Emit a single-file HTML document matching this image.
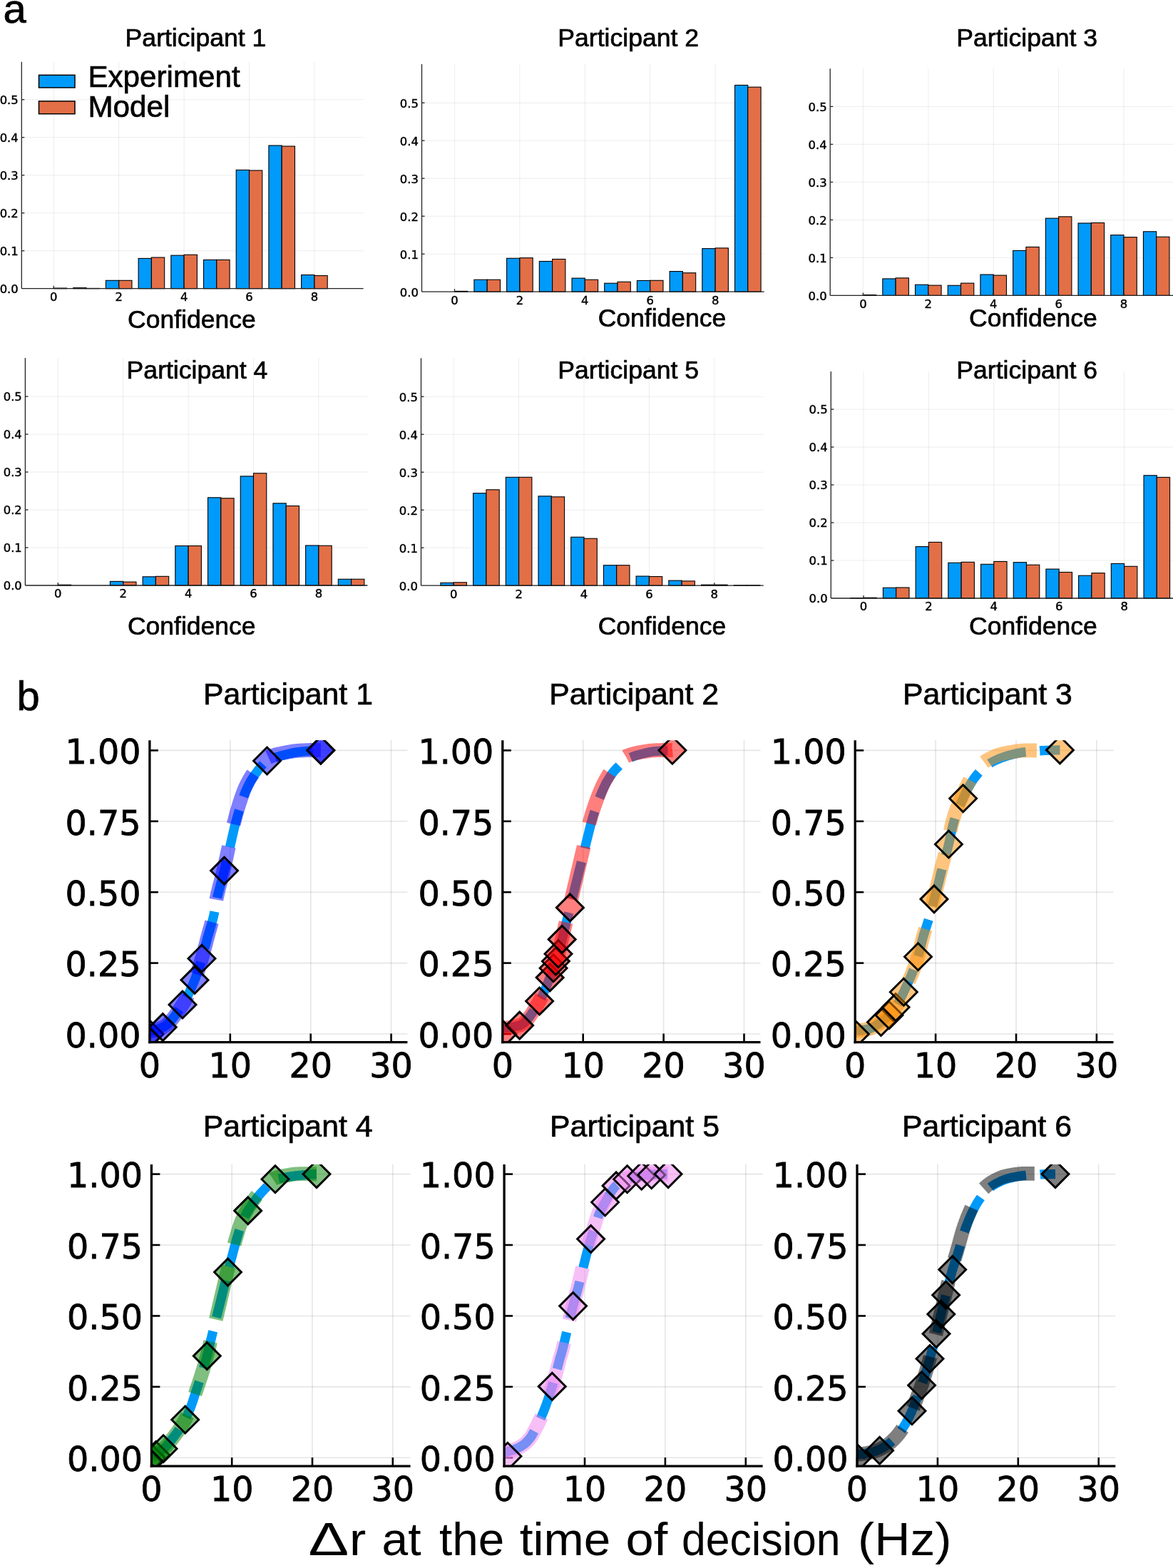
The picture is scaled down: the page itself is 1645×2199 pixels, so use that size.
<!DOCTYPE html>
<html lang="en"><head><meta charset="utf-8"><title>Figure</title>
<style>html,body{margin:0;padding:0;background:#fff}svg{display:block}</style></head><body>
<svg width="1645" height="2199" viewBox="0 0 1645 2199">
<rect width="1645" height="2199" fill="#fff"/>
<g stroke="#000" stroke-opacity="0.085" stroke-width="0.9"><line x1="75.3" y1="86.8" x2="75.3" y2="404.7"/><line x1="166.7" y1="86.8" x2="166.7" y2="404.7"/><line x1="258.1" y1="86.8" x2="258.1" y2="404.7"/><line x1="349.5" y1="86.8" x2="349.5" y2="404.7"/><line x1="440.9" y1="86.8" x2="440.9" y2="404.7"/><line x1="30.3" y1="404.7" x2="509.6" y2="404.7"/><line x1="30.3" y1="351.7" x2="509.6" y2="351.7"/><line x1="30.3" y1="298.7" x2="509.6" y2="298.7"/><line x1="30.3" y1="245.7" x2="509.6" y2="245.7"/><line x1="30.3" y1="192.7" x2="509.6" y2="192.7"/><line x1="30.3" y1="139.7" x2="509.6" y2="139.7"/></g>
<g stroke="#000" stroke-width="1.1"><rect x="75.3" y="404.06" width="18.28" height="0.64" fill="#E36F47"/><rect x="102.72" y="403.64" width="18.28" height="1.06" fill="#009AFA"/><rect x="121" y="404.38" width="18.28" height="0.32" fill="#E36F47"/><rect x="148.42" y="393.31" width="18.28" height="11.39" fill="#009AFA"/><rect x="166.7" y="393.31" width="18.28" height="11.39" fill="#E36F47"/><rect x="194.12" y="362.41" width="18.28" height="42.29" fill="#009AFA"/><rect x="212.4" y="361.03" width="18.28" height="43.67" fill="#E36F47"/><rect x="239.82" y="358.17" width="18.28" height="46.53" fill="#009AFA"/><rect x="258.1" y="357.26" width="18.28" height="47.43" fill="#E36F47"/><rect x="285.52" y="364.42" width="18.28" height="40.28" fill="#009AFA"/><rect x="303.8" y="364.42" width="18.28" height="40.28" fill="#E36F47"/><rect x="331.22" y="238.39" width="18.28" height="166.31" fill="#009AFA"/><rect x="349.5" y="239.02" width="18.28" height="165.68" fill="#E36F47"/><rect x="376.92" y="204.04" width="18.28" height="200.66" fill="#009AFA"/><rect x="395.2" y="205.05" width="18.28" height="199.65" fill="#E36F47"/><rect x="422.62" y="385.51" width="18.28" height="19.19" fill="#009AFA"/><rect x="440.9" y="386.52" width="18.28" height="18.18" fill="#E36F47"/></g>
<g stroke="#222" stroke-width="1.3"><line x1="30.3" y1="86.8" x2="30.3" y2="404.7"/><line x1="30.3" y1="404.7" x2="509.6" y2="404.7"/><line x1="75.3" y1="404.7" x2="75.3" y2="400.7"/><line x1="166.7" y1="404.7" x2="166.7" y2="400.7"/><line x1="258.1" y1="404.7" x2="258.1" y2="400.7"/><line x1="349.5" y1="404.7" x2="349.5" y2="400.7"/><line x1="440.9" y1="404.7" x2="440.9" y2="400.7"/><line x1="30.3" y1="351.7" x2="34.3" y2="351.7"/><line x1="30.3" y1="298.7" x2="34.3" y2="298.7"/><line x1="30.3" y1="245.7" x2="34.3" y2="245.7"/><line x1="30.3" y1="192.7" x2="34.3" y2="192.7"/><line x1="30.3" y1="139.7" x2="34.3" y2="139.7"/></g>
<g font-family="'DejaVu Sans', Verdana, sans-serif" font-size="16.4" fill="#000" stroke="#000" stroke-width="0.45"><text x="75.3" y="422.1" text-anchor="middle">0</text><text x="166.7" y="422.1" text-anchor="middle">2</text><text x="258.1" y="422.1" text-anchor="middle">4</text><text x="349.5" y="422.1" text-anchor="middle">6</text><text x="440.9" y="422.1" text-anchor="middle">8</text><text x="25.7" y="411.1" text-anchor="end">0.0</text><text x="25.7" y="358.1" text-anchor="end">0.1</text><text x="25.7" y="305.1" text-anchor="end">0.2</text><text x="25.7" y="252.1" text-anchor="end">0.3</text><text x="25.7" y="199.1" text-anchor="end">0.4</text><text x="25.7" y="146.1" text-anchor="end">0.5</text></g>
<text x="274.5" y="64.5" text-anchor="middle" font-family="'Liberation Sans', Arial, Helvetica, sans-serif" font-size="35.6" fill="#000" stroke="#000" stroke-width="0.7">Participant 1</text>
<text x="268.9" y="459.6" text-anchor="middle" font-family="'Liberation Sans', Arial, Helvetica, sans-serif" font-size="35.5" fill="#000" stroke="#000" stroke-width="0.7">Confidence</text>
<g stroke="#000" stroke-opacity="0.085" stroke-width="0.9"><line x1="637.5" y1="90" x2="637.5" y2="409.2"/><line x1="728.9" y1="90" x2="728.9" y2="409.2"/><line x1="820.3" y1="90" x2="820.3" y2="409.2"/><line x1="911.7" y1="90" x2="911.7" y2="409.2"/><line x1="1003.1" y1="90" x2="1003.1" y2="409.2"/><line x1="591.5" y1="409.2" x2="1071.7" y2="409.2"/><line x1="591.5" y1="356.2" x2="1071.7" y2="356.2"/><line x1="591.5" y1="303.2" x2="1071.7" y2="303.2"/><line x1="591.5" y1="250.2" x2="1071.7" y2="250.2"/><line x1="591.5" y1="197.2" x2="1071.7" y2="197.2"/><line x1="591.5" y1="144.2" x2="1071.7" y2="144.2"/></g>
<g stroke="#000" stroke-width="1.1"><rect x="637.5" y="408.4" width="18.28" height="0.8" fill="#E36F47"/><rect x="664.92" y="392.24" width="18.28" height="16.96" fill="#009AFA"/><rect x="683.2" y="392.24" width="18.28" height="16.96" fill="#E36F47"/><rect x="710.62" y="362.24" width="18.28" height="46.96" fill="#009AFA"/><rect x="728.9" y="361.66" width="18.28" height="47.54" fill="#E36F47"/><rect x="756.32" y="366.48" width="18.28" height="42.72" fill="#009AFA"/><rect x="774.6" y="363.46" width="18.28" height="45.74" fill="#E36F47"/><rect x="802.02" y="390.12" width="18.28" height="19.08" fill="#009AFA"/><rect x="820.3" y="392.24" width="18.28" height="16.96" fill="#E36F47"/><rect x="847.72" y="397.22" width="18.28" height="11.98" fill="#009AFA"/><rect x="866" y="395.26" width="18.28" height="13.94" fill="#E36F47"/><rect x="893.42" y="393.46" width="18.28" height="15.74" fill="#009AFA"/><rect x="911.7" y="393.3" width="18.28" height="15.9" fill="#E36F47"/><rect x="939.12" y="380.58" width="18.28" height="28.62" fill="#009AFA"/><rect x="957.4" y="382.7" width="18.28" height="26.5" fill="#E36F47"/><rect x="984.82" y="348.62" width="18.28" height="60.58" fill="#009AFA"/><rect x="1003.1" y="347.88" width="18.28" height="61.32" fill="#E36F47"/><rect x="1030.52" y="119.45" width="18.28" height="289.75" fill="#009AFA"/><rect x="1048.8" y="122.15" width="18.28" height="287.05" fill="#E36F47"/></g>
<g stroke="#222" stroke-width="1.3"><line x1="591.5" y1="90" x2="591.5" y2="409.2"/><line x1="591.5" y1="409.2" x2="1071.7" y2="409.2"/><line x1="637.5" y1="409.2" x2="637.5" y2="405.2"/><line x1="728.9" y1="409.2" x2="728.9" y2="405.2"/><line x1="820.3" y1="409.2" x2="820.3" y2="405.2"/><line x1="911.7" y1="409.2" x2="911.7" y2="405.2"/><line x1="1003.1" y1="409.2" x2="1003.1" y2="405.2"/><line x1="591.5" y1="356.2" x2="595.5" y2="356.2"/><line x1="591.5" y1="303.2" x2="595.5" y2="303.2"/><line x1="591.5" y1="250.2" x2="595.5" y2="250.2"/><line x1="591.5" y1="197.2" x2="595.5" y2="197.2"/><line x1="591.5" y1="144.2" x2="595.5" y2="144.2"/></g>
<g font-family="'DejaVu Sans', Verdana, sans-serif" font-size="16.4" fill="#000" stroke="#000" stroke-width="0.45"><text x="637.5" y="426.6" text-anchor="middle">0</text><text x="728.9" y="426.6" text-anchor="middle">2</text><text x="820.3" y="426.6" text-anchor="middle">4</text><text x="911.7" y="426.6" text-anchor="middle">6</text><text x="1003.1" y="426.6" text-anchor="middle">8</text><text x="586.9" y="415.6" text-anchor="end">0.0</text><text x="586.9" y="362.6" text-anchor="end">0.1</text><text x="586.9" y="309.6" text-anchor="end">0.2</text><text x="586.9" y="256.6" text-anchor="end">0.3</text><text x="586.9" y="203.6" text-anchor="end">0.4</text><text x="586.9" y="150.6" text-anchor="end">0.5</text></g>
<text x="881.2" y="64.5" text-anchor="middle" font-family="'Liberation Sans', Arial, Helvetica, sans-serif" font-size="35.6" fill="#000" stroke="#000" stroke-width="0.7">Participant 2</text>
<text x="928.5" y="458.4" text-anchor="middle" font-family="'Liberation Sans', Arial, Helvetica, sans-serif" font-size="35.5" fill="#000" stroke="#000" stroke-width="0.7">Confidence</text>
<g stroke="#000" stroke-opacity="0.085" stroke-width="0.9"><line x1="1210.4" y1="96.2" x2="1210.4" y2="414.4"/><line x1="1301.8" y1="96.2" x2="1301.8" y2="414.4"/><line x1="1393.2" y1="96.2" x2="1393.2" y2="414.4"/><line x1="1484.6" y1="96.2" x2="1484.6" y2="414.4"/><line x1="1576" y1="96.2" x2="1576" y2="414.4"/><line x1="1164.2" y1="414.4" x2="1650" y2="414.4"/><line x1="1164.2" y1="361.4" x2="1650" y2="361.4"/><line x1="1164.2" y1="308.4" x2="1650" y2="308.4"/><line x1="1164.2" y1="255.4" x2="1650" y2="255.4"/><line x1="1164.2" y1="202.4" x2="1650" y2="202.4"/><line x1="1164.2" y1="149.4" x2="1650" y2="149.4"/></g>
<g stroke="#000" stroke-width="1.1"><rect x="1210.4" y="413.6" width="18.28" height="0.8" fill="#E36F47"/><rect x="1237.82" y="390.92" width="18.28" height="23.48" fill="#009AFA"/><rect x="1256.1" y="389.86" width="18.28" height="24.54" fill="#E36F47"/><rect x="1283.52" y="399.24" width="18.28" height="15.16" fill="#009AFA"/><rect x="1301.8" y="400.14" width="18.28" height="14.26" fill="#E36F47"/><rect x="1329.22" y="400.3" width="18.28" height="14.1" fill="#009AFA"/><rect x="1347.5" y="397.12" width="18.28" height="17.28" fill="#E36F47"/><rect x="1374.92" y="385.04" width="18.28" height="29.36" fill="#009AFA"/><rect x="1393.2" y="386.1" width="18.28" height="28.3" fill="#E36F47"/><rect x="1420.62" y="351.38" width="18.28" height="63.02" fill="#009AFA"/><rect x="1438.9" y="346.4" width="18.28" height="68" fill="#E36F47"/><rect x="1466.32" y="306.12" width="18.28" height="108.28" fill="#009AFA"/><rect x="1484.6" y="303.84" width="18.28" height="110.56" fill="#E36F47"/><rect x="1512.02" y="312.96" width="18.28" height="101.44" fill="#009AFA"/><rect x="1530.3" y="312.48" width="18.28" height="101.92" fill="#E36F47"/><rect x="1557.72" y="329.6" width="18.28" height="84.8" fill="#009AFA"/><rect x="1576" y="332.62" width="18.28" height="81.78" fill="#E36F47"/><rect x="1603.42" y="324.78" width="18.28" height="89.62" fill="#009AFA"/><rect x="1621.7" y="332.2" width="18.28" height="82.2" fill="#E36F47"/></g>
<g stroke="#222" stroke-width="1.3"><line x1="1164.2" y1="96.2" x2="1164.2" y2="414.4"/><line x1="1164.2" y1="414.4" x2="1650" y2="414.4"/><line x1="1210.4" y1="414.4" x2="1210.4" y2="410.4"/><line x1="1301.8" y1="414.4" x2="1301.8" y2="410.4"/><line x1="1393.2" y1="414.4" x2="1393.2" y2="410.4"/><line x1="1484.6" y1="414.4" x2="1484.6" y2="410.4"/><line x1="1576" y1="414.4" x2="1576" y2="410.4"/><line x1="1164.2" y1="361.4" x2="1168.2" y2="361.4"/><line x1="1164.2" y1="308.4" x2="1168.2" y2="308.4"/><line x1="1164.2" y1="255.4" x2="1168.2" y2="255.4"/><line x1="1164.2" y1="202.4" x2="1168.2" y2="202.4"/><line x1="1164.2" y1="149.4" x2="1168.2" y2="149.4"/></g>
<g font-family="'DejaVu Sans', Verdana, sans-serif" font-size="16.4" fill="#000" stroke="#000" stroke-width="0.45"><text x="1210.4" y="431.8" text-anchor="middle">0</text><text x="1301.8" y="431.8" text-anchor="middle">2</text><text x="1393.2" y="431.8" text-anchor="middle">4</text><text x="1484.6" y="431.8" text-anchor="middle">6</text><text x="1576" y="431.8" text-anchor="middle">8</text><text x="1159.6" y="420.8" text-anchor="end">0.0</text><text x="1159.6" y="367.8" text-anchor="end">0.1</text><text x="1159.6" y="314.8" text-anchor="end">0.2</text><text x="1159.6" y="261.8" text-anchor="end">0.3</text><text x="1159.6" y="208.8" text-anchor="end">0.4</text><text x="1159.6" y="155.8" text-anchor="end">0.5</text></g>
<text x="1440.2" y="64.5" text-anchor="middle" font-family="'Liberation Sans', Arial, Helvetica, sans-serif" font-size="35.6" fill="#000" stroke="#000" stroke-width="0.7">Participant 3</text>
<text x="1448.9" y="458.4" text-anchor="middle" font-family="'Liberation Sans', Arial, Helvetica, sans-serif" font-size="35.5" fill="#000" stroke="#000" stroke-width="0.7">Confidence</text>
<g stroke="#000" stroke-opacity="0.085" stroke-width="0.9"><line x1="81.3" y1="502.1" x2="81.3" y2="821"/><line x1="172.7" y1="502.1" x2="172.7" y2="821"/><line x1="264.1" y1="502.1" x2="264.1" y2="821"/><line x1="355.5" y1="502.1" x2="355.5" y2="821"/><line x1="446.9" y1="502.1" x2="446.9" y2="821"/><line x1="35.4" y1="821" x2="515.4" y2="821"/><line x1="35.4" y1="768" x2="515.4" y2="768"/><line x1="35.4" y1="715" x2="515.4" y2="715"/><line x1="35.4" y1="662" x2="515.4" y2="662"/><line x1="35.4" y1="609" x2="515.4" y2="609"/><line x1="35.4" y1="556" x2="515.4" y2="556"/></g>
<g stroke="#000" stroke-width="1.1"><rect x="81.3" y="820.21" width="18.28" height="0.8" fill="#E36F47"/><rect x="154.42" y="815.38" width="18.28" height="5.62" fill="#009AFA"/><rect x="172.7" y="816.12" width="18.28" height="4.88" fill="#E36F47"/><rect x="200.12" y="808.81" width="18.28" height="12.19" fill="#009AFA"/><rect x="218.4" y="808.33" width="18.28" height="12.67" fill="#E36F47"/><rect x="245.82" y="765.51" width="18.28" height="55.49" fill="#009AFA"/><rect x="264.1" y="765.51" width="18.28" height="55.49" fill="#E36F47"/><rect x="291.52" y="697.83" width="18.28" height="123.17" fill="#009AFA"/><rect x="309.8" y="698.78" width="18.28" height="122.22" fill="#E36F47"/><rect x="337.22" y="667.88" width="18.28" height="153.12" fill="#009AFA"/><rect x="355.5" y="663.75" width="18.28" height="157.25" fill="#E36F47"/><rect x="382.92" y="705.83" width="18.28" height="115.17" fill="#009AFA"/><rect x="401.2" y="709.49" width="18.28" height="111.51" fill="#E36F47"/><rect x="428.62" y="764.98" width="18.28" height="56.02" fill="#009AFA"/><rect x="446.9" y="765.24" width="18.28" height="55.76" fill="#E36F47"/><rect x="474.32" y="812.25" width="18.28" height="8.75" fill="#009AFA"/><rect x="492.6" y="812.25" width="18.28" height="8.75" fill="#E36F47"/></g>
<g stroke="#222" stroke-width="1.3"><line x1="35.4" y1="502.1" x2="35.4" y2="821"/><line x1="35.4" y1="821" x2="515.4" y2="821"/><line x1="81.3" y1="821" x2="81.3" y2="817"/><line x1="172.7" y1="821" x2="172.7" y2="817"/><line x1="264.1" y1="821" x2="264.1" y2="817"/><line x1="355.5" y1="821" x2="355.5" y2="817"/><line x1="446.9" y1="821" x2="446.9" y2="817"/><line x1="35.4" y1="768" x2="39.4" y2="768"/><line x1="35.4" y1="715" x2="39.4" y2="715"/><line x1="35.4" y1="662" x2="39.4" y2="662"/><line x1="35.4" y1="609" x2="39.4" y2="609"/><line x1="35.4" y1="556" x2="39.4" y2="556"/></g>
<g font-family="'DejaVu Sans', Verdana, sans-serif" font-size="16.4" fill="#000" stroke="#000" stroke-width="0.45"><text x="81.3" y="838.4" text-anchor="middle">0</text><text x="172.7" y="838.4" text-anchor="middle">2</text><text x="264.1" y="838.4" text-anchor="middle">4</text><text x="355.5" y="838.4" text-anchor="middle">6</text><text x="446.9" y="838.4" text-anchor="middle">8</text><text x="30.8" y="827.4" text-anchor="end">0.0</text><text x="30.8" y="774.4" text-anchor="end">0.1</text><text x="30.8" y="721.4" text-anchor="end">0.2</text><text x="30.8" y="668.4" text-anchor="end">0.3</text><text x="30.8" y="615.4" text-anchor="end">0.4</text><text x="30.8" y="562.4" text-anchor="end">0.5</text></g>
<text x="276.5" y="530.6" text-anchor="middle" font-family="'Liberation Sans', Arial, Helvetica, sans-serif" font-size="35.6" fill="#000" stroke="#000" stroke-width="0.7">Participant 4</text>
<text x="268.8" y="890" text-anchor="middle" font-family="'Liberation Sans', Arial, Helvetica, sans-serif" font-size="35.5" fill="#000" stroke="#000" stroke-width="0.7">Confidence</text>
<g stroke="#000" stroke-opacity="0.085" stroke-width="0.9"><line x1="636.2" y1="502.3" x2="636.2" y2="821.2"/><line x1="727.6" y1="502.3" x2="727.6" y2="821.2"/><line x1="819" y1="502.3" x2="819" y2="821.2"/><line x1="910.4" y1="502.3" x2="910.4" y2="821.2"/><line x1="1001.8" y1="502.3" x2="1001.8" y2="821.2"/><line x1="590.5" y1="821.2" x2="1070.8" y2="821.2"/><line x1="590.5" y1="768.2" x2="1070.8" y2="768.2"/><line x1="590.5" y1="715.2" x2="1070.8" y2="715.2"/><line x1="590.5" y1="662.2" x2="1070.8" y2="662.2"/><line x1="590.5" y1="609.2" x2="1070.8" y2="609.2"/><line x1="590.5" y1="556.2" x2="1070.8" y2="556.2"/></g>
<g stroke="#000" stroke-width="1.1"><rect x="617.92" y="817.33" width="18.28" height="3.87" fill="#009AFA"/><rect x="636.2" y="816.8" width="18.28" height="4.4" fill="#E36F47"/><rect x="663.62" y="691.67" width="18.28" height="129.53" fill="#009AFA"/><rect x="681.9" y="686.79" width="18.28" height="134.41" fill="#E36F47"/><rect x="709.32" y="669.3" width="18.28" height="151.9" fill="#009AFA"/><rect x="727.6" y="669.3" width="18.28" height="151.9" fill="#E36F47"/><rect x="755.02" y="695.8" width="18.28" height="125.4" fill="#009AFA"/><rect x="773.3" y="696.81" width="18.28" height="124.39" fill="#E36F47"/><rect x="800.72" y="753.25" width="18.28" height="67.95" fill="#009AFA"/><rect x="819" y="755.22" width="18.28" height="65.98" fill="#E36F47"/><rect x="846.42" y="792.74" width="18.28" height="28.46" fill="#009AFA"/><rect x="864.7" y="792.74" width="18.28" height="28.46" fill="#E36F47"/><rect x="892.12" y="808.06" width="18.28" height="13.14" fill="#009AFA"/><rect x="910.4" y="808.53" width="18.28" height="12.67" fill="#E36F47"/><rect x="937.82" y="814.15" width="18.28" height="7.05" fill="#009AFA"/><rect x="956.1" y="814.89" width="18.28" height="6.31" fill="#E36F47"/><rect x="983.52" y="820.14" width="18.28" height="1.06" fill="#009AFA"/><rect x="1001.8" y="820.14" width="18.28" height="1.06" fill="#E36F47"/><rect x="1029.22" y="820.78" width="18.28" height="0.42" fill="#009AFA"/><rect x="1047.5" y="820.78" width="18.28" height="0.42" fill="#E36F47"/></g>
<g stroke="#222" stroke-width="1.3"><line x1="590.5" y1="502.3" x2="590.5" y2="821.2"/><line x1="590.5" y1="821.2" x2="1070.8" y2="821.2"/><line x1="636.2" y1="821.2" x2="636.2" y2="817.2"/><line x1="727.6" y1="821.2" x2="727.6" y2="817.2"/><line x1="819" y1="821.2" x2="819" y2="817.2"/><line x1="910.4" y1="821.2" x2="910.4" y2="817.2"/><line x1="1001.8" y1="821.2" x2="1001.8" y2="817.2"/><line x1="590.5" y1="768.2" x2="594.5" y2="768.2"/><line x1="590.5" y1="715.2" x2="594.5" y2="715.2"/><line x1="590.5" y1="662.2" x2="594.5" y2="662.2"/><line x1="590.5" y1="609.2" x2="594.5" y2="609.2"/><line x1="590.5" y1="556.2" x2="594.5" y2="556.2"/></g>
<g font-family="'DejaVu Sans', Verdana, sans-serif" font-size="16.4" fill="#000" stroke="#000" stroke-width="0.45"><text x="636.2" y="838.6" text-anchor="middle">0</text><text x="727.6" y="838.6" text-anchor="middle">2</text><text x="819" y="838.6" text-anchor="middle">4</text><text x="910.4" y="838.6" text-anchor="middle">6</text><text x="1001.8" y="838.6" text-anchor="middle">8</text><text x="585.9" y="827.6" text-anchor="end">0.0</text><text x="585.9" y="774.6" text-anchor="end">0.1</text><text x="585.9" y="721.6" text-anchor="end">0.2</text><text x="585.9" y="668.6" text-anchor="end">0.3</text><text x="585.9" y="615.6" text-anchor="end">0.4</text><text x="585.9" y="562.6" text-anchor="end">0.5</text></g>
<text x="881.2" y="530.6" text-anchor="middle" font-family="'Liberation Sans', Arial, Helvetica, sans-serif" font-size="35.6" fill="#000" stroke="#000" stroke-width="0.7">Participant 5</text>
<text x="928.5" y="889.8" text-anchor="middle" font-family="'Liberation Sans', Arial, Helvetica, sans-serif" font-size="35.5" fill="#000" stroke="#000" stroke-width="0.7">Confidence</text>
<g stroke="#000" stroke-opacity="0.085" stroke-width="0.9"><line x1="1211" y1="521" x2="1211" y2="839"/><line x1="1302.4" y1="521" x2="1302.4" y2="839"/><line x1="1393.8" y1="521" x2="1393.8" y2="839"/><line x1="1485.2" y1="521" x2="1485.2" y2="839"/><line x1="1576.6" y1="521" x2="1576.6" y2="839"/><line x1="1165.3" y1="839" x2="1650" y2="839"/><line x1="1165.3" y1="786" x2="1650" y2="786"/><line x1="1165.3" y1="733" x2="1650" y2="733"/><line x1="1165.3" y1="680" x2="1650" y2="680"/><line x1="1165.3" y1="627" x2="1650" y2="627"/><line x1="1165.3" y1="574" x2="1650" y2="574"/></g>
<g stroke="#000" stroke-width="1.1"><rect x="1192.72" y="838.58" width="18.28" height="0.42" fill="#009AFA"/><rect x="1211" y="838.21" width="18.28" height="0.8" fill="#E36F47"/><rect x="1238.42" y="824.27" width="18.28" height="14.73" fill="#009AFA"/><rect x="1256.7" y="824" width="18.28" height="15" fill="#E36F47"/><rect x="1284.12" y="766.55" width="18.28" height="72.45" fill="#009AFA"/><rect x="1302.4" y="760.4" width="18.28" height="78.6" fill="#E36F47"/><rect x="1329.82" y="789.23" width="18.28" height="49.77" fill="#009AFA"/><rect x="1348.1" y="788.33" width="18.28" height="50.67" fill="#E36F47"/><rect x="1375.52" y="791.3" width="18.28" height="47.7" fill="#009AFA"/><rect x="1393.8" y="787.48" width="18.28" height="51.52" fill="#E36F47"/><rect x="1421.22" y="788.65" width="18.28" height="50.35" fill="#009AFA"/><rect x="1439.5" y="792.2" width="18.28" height="46.8" fill="#E36F47"/><rect x="1466.92" y="798.08" width="18.28" height="40.92" fill="#009AFA"/><rect x="1485.2" y="802.48" width="18.28" height="36.52" fill="#E36F47"/><rect x="1512.62" y="807.2" width="18.28" height="31.8" fill="#009AFA"/><rect x="1530.9" y="803.65" width="18.28" height="35.35" fill="#E36F47"/><rect x="1558.32" y="790.4" width="18.28" height="48.6" fill="#009AFA"/><rect x="1576.6" y="794.27" width="18.28" height="44.73" fill="#E36F47"/><rect x="1604.02" y="666.75" width="18.28" height="172.25" fill="#009AFA"/><rect x="1622.3" y="669.4" width="18.28" height="169.6" fill="#E36F47"/></g>
<g stroke="#222" stroke-width="1.3"><line x1="1165.3" y1="521" x2="1165.3" y2="839"/><line x1="1165.3" y1="839" x2="1650" y2="839"/><line x1="1211" y1="839" x2="1211" y2="835"/><line x1="1302.4" y1="839" x2="1302.4" y2="835"/><line x1="1393.8" y1="839" x2="1393.8" y2="835"/><line x1="1485.2" y1="839" x2="1485.2" y2="835"/><line x1="1576.6" y1="839" x2="1576.6" y2="835"/><line x1="1165.3" y1="786" x2="1169.3" y2="786"/><line x1="1165.3" y1="733" x2="1169.3" y2="733"/><line x1="1165.3" y1="680" x2="1169.3" y2="680"/><line x1="1165.3" y1="627" x2="1169.3" y2="627"/><line x1="1165.3" y1="574" x2="1169.3" y2="574"/></g>
<g font-family="'DejaVu Sans', Verdana, sans-serif" font-size="16.4" fill="#000" stroke="#000" stroke-width="0.45"><text x="1211" y="856.4" text-anchor="middle">0</text><text x="1302.4" y="856.4" text-anchor="middle">2</text><text x="1393.8" y="856.4" text-anchor="middle">4</text><text x="1485.2" y="856.4" text-anchor="middle">6</text><text x="1576.6" y="856.4" text-anchor="middle">8</text><text x="1160.7" y="845.4" text-anchor="end">0.0</text><text x="1160.7" y="792.4" text-anchor="end">0.1</text><text x="1160.7" y="739.4" text-anchor="end">0.2</text><text x="1160.7" y="686.4" text-anchor="end">0.3</text><text x="1160.7" y="633.4" text-anchor="end">0.4</text><text x="1160.7" y="580.4" text-anchor="end">0.5</text></g>
<text x="1440.2" y="530.6" text-anchor="middle" font-family="'Liberation Sans', Arial, Helvetica, sans-serif" font-size="35.6" fill="#000" stroke="#000" stroke-width="0.7">Participant 6</text>
<text x="1448.9" y="889.8" text-anchor="middle" font-family="'Liberation Sans', Arial, Helvetica, sans-serif" font-size="35.5" fill="#000" stroke="#000" stroke-width="0.7">Confidence</text>
<rect x="54.5" y="105.3" width="50.5" height="17.6" fill="#009AFA" stroke="#000" stroke-width="1.5"/>
<rect x="54.5" y="141.9" width="50.5" height="17.8" fill="#E36F47" stroke="#000" stroke-width="1.5"/>
<text x="123.4" y="121.7" font-family="'Liberation Sans', Arial, Helvetica, sans-serif" font-size="42.2" fill="#000" stroke="#000" stroke-width="0.7">Experiment</text>
<text x="123.4" y="164.3" font-family="'Liberation Sans', Arial, Helvetica, sans-serif" font-size="42.2" fill="#000" stroke="#000" stroke-width="0.7">Model</text>
<text x="4.4" y="32" font-family="'Liberation Sans', Arial, Helvetica, sans-serif" font-size="58" fill="#000" stroke="#000" stroke-width="0.7">a</text>
<text x="23.6" y="995.7" font-family="'Liberation Sans', Arial, Helvetica, sans-serif" font-size="58" fill="#000" stroke="#000" stroke-width="0.7">b</text>
<g stroke="#000" stroke-opacity="0.1" stroke-width="1.6"><line x1="322.8" y1="1038.3" x2="322.8" y2="1461.6"/><line x1="435.7" y1="1038.3" x2="435.7" y2="1461.6"/><line x1="548.6" y1="1038.3" x2="548.6" y2="1461.6"/><line x1="209.9" y1="1450" x2="571.4" y2="1450"/><line x1="209.9" y1="1350.6" x2="571.4" y2="1350.6"/><line x1="209.9" y1="1251.2" x2="571.4" y2="1251.2"/><line x1="209.9" y1="1151.8" x2="571.4" y2="1151.8"/><line x1="209.9" y1="1052.4" x2="571.4" y2="1052.4"/></g>
<g stroke="#000" stroke-width="2.6"><line x1="209.9" y1="1461.6" x2="209.9" y2="1449.6"/><line x1="322.8" y1="1461.6" x2="322.8" y2="1449.6"/><line x1="435.7" y1="1461.6" x2="435.7" y2="1449.6"/><line x1="548.6" y1="1461.6" x2="548.6" y2="1449.6"/><line x1="209.9" y1="1450" x2="221.9" y2="1450"/><line x1="209.9" y1="1350.6" x2="221.9" y2="1350.6"/><line x1="209.9" y1="1251.2" x2="221.9" y2="1251.2"/><line x1="209.9" y1="1151.8" x2="221.9" y2="1151.8"/><line x1="209.9" y1="1052.4" x2="221.9" y2="1052.4"/></g>
<clipPath id="cb0"><rect x="209.9" y="1038.3" width="361.5" height="423.3"/></clipPath>
<g clip-path="url(#cb0)">
<path d="M210.1 1446.0 L211.1 1446.0 L212.1 1445.9 L213.1 1445.8 L214.1 1445.6 L215.1 1445.5 L216.1 1445.2 L217.1 1445.0 L218.1 1444.7 L219.1 1444.4 L220.1 1444.0 L221.1 1443.7 L222.1 1443.3 L223.1 1442.9 L224.1 1442.4 L225.1 1442.0 L226.1 1441.6 L227.1 1441.1 L228.1 1440.7 L229.1 1440.2 L230.1 1439.7 L231.1 1439.0 L232.1 1438.4 L233.1 1437.6 L234.1 1436.8 L235.1 1436.0 L236.1 1435.0 L237.1 1434.1 L238.1 1433.1 L239.1 1432.0 L240.1 1430.9 L241.1 1429.7 L242.1 1428.5 L243.1 1427.3 L244.1 1426.0 L245.1 1424.7 L246.1 1423.4 L247.1 1422.0 L248.1 1420.6 L249.1 1419.2 L250.1 1417.8 L251.1 1416.4 L252.1 1414.9 L253.1 1413.4 L254.1 1411.9 L255.1 1410.4 L256.1 1409.0 L257.1 1407.4 L258.1 1405.8 L259.1 1404.1 L260.1 1402.3 L261.1 1400.5 L262.1 1398.6 L263.1 1396.7 L264.1 1394.7 L265.1 1392.6 L266.1 1390.4 L267.1 1388.3 L268.1 1386.0 L269.1 1383.7 L270.1 1381.4 L271.1 1379.0 L272.1 1376.6 L273.1 1374.2 L274.1 1371.6 L275.1 1368.9 L276.1 1366.1 L277.1 1363.2 L278.1 1360.1 L279.1 1357.0 L280.1 1353.9 L281.1 1350.7 L282.1 1347.4 L283.1 1344.1 L284.1 1340.7 L285.1 1337.1 L286.1 1333.5 L287.1 1329.7 L288.1 1326.0 L289.1 1322.2 L290.1 1318.5 L291.1 1314.8 L292.1 1311.3 L293.1 1307.9 L294.1 1304.5 L295.1 1301.2 L296.1 1297.7 L297.1 1294.2 L298.1 1290.5 L299.1 1286.5 L300.1 1282.2 L301.1 1277.2 L302.1 1271.9 L303.1 1266.6 L304.1 1261.5 L305.1 1256.9 L306.1 1252.7 L307.1 1248.8 L308.1 1245.0 L309.1 1241.3 L310.1 1237.6 L311.1 1234.0 L312.1 1230.4 L313.1 1226.7 L314.1 1222.8 L315.1 1218.8 L316.1 1214.7 L317.1 1210.6 L318.1 1206.4 L319.1 1202.1 L320.1 1197.8 L321.1 1193.6 L322.1 1189.3 L323.1 1185.0 L324.1 1180.7 L325.1 1176.3 L326.1 1171.9 L327.1 1167.5 L328.1 1163.2 L329.1 1159.2 L330.1 1155.3 L331.1 1151.5 L332.1 1147.9 L333.1 1144.3 L334.1 1140.9 L335.1 1137.5 L336.1 1134.3 L337.1 1131.1 L338.1 1128.0 L339.1 1124.9 L340.1 1121.9 L341.1 1118.9 L342.1 1116.1 L343.1 1113.4 L344.1 1110.8 L345.1 1108.4 L346.1 1106.2 L347.1 1104.1 L348.1 1102.0 L349.1 1100.1 L350.1 1098.2 L351.1 1096.4 L352.1 1094.7 L353.1 1093.0 L354.1 1091.4 L355.1 1089.8 L356.1 1088.3 L357.1 1086.9 L358.1 1085.5 L359.1 1084.1 L360.1 1082.7 L361.1 1081.4 L362.1 1080.0 L363.1 1078.7 L364.1 1077.4 L365.1 1076.1 L366.1 1074.9 L367.1 1073.7 L368.1 1072.5 L369.1 1071.4 L370.1 1070.4 L371.1 1069.5 L372.1 1068.7 L373.1 1067.9 L374.1 1067.3 L375.1 1066.7 L376.1 1066.2 L377.1 1065.7 L378.1 1065.2 L379.1 1064.8 L380.1 1064.4 L381.1 1063.9 L382.1 1063.6 L383.1 1063.2 L384.1 1062.8 L385.1 1062.5 L386.1 1062.2 L387.1 1061.9 L388.1 1061.6 L389.1 1061.3 L390.1 1061.0 L391.1 1060.7 L392.1 1060.4 L393.1 1060.2 L394.1 1059.9 L395.1 1059.7 L396.1 1059.4 L397.1 1059.1 L398.1 1058.9 L399.1 1058.6 L400.1 1058.4 L401.1 1058.1 L402.1 1057.9 L403.1 1057.6 L404.1 1057.4 L405.1 1057.1 L406.1 1056.9 L407.1 1056.7 L408.1 1056.5 L409.1 1056.2 L410.1 1056.0 L411.1 1055.8 L412.1 1055.6 L413.1 1055.5 L414.1 1055.3 L415.1 1055.1 L416.1 1055.0 L417.1 1054.8 L418.1 1054.7 L419.1 1054.6 L420.1 1054.5 L421.1 1054.4 L422.1 1054.2 L423.1 1054.1 L424.1 1054.0 L425.1 1053.9 L426.1 1053.8 L427.1 1053.7 L428.1 1053.6 L429.1 1053.5 L430.1 1053.4 L431.1 1053.3 L432.1 1053.2 L433.1 1053.1 L434.1 1053.0 L435.1 1052.9 L436.1 1052.8 L437.1 1052.8 L438.1 1052.7 L439.1 1052.6 L440.1 1052.6 L441.1 1052.5 L442.1 1052.5 L443.1 1052.4 L444.1 1052.4 L445.1 1052.3 L446.1 1052.3 L447.1 1052.3 L448.1 1052.3 L449.1 1052.3 L449.8 1052.2" fill="none" stroke="#009AFA" stroke-width="13.2" stroke-dasharray="53.5 19.8" stroke-dashoffset="0"/>
<path d="M210.1 1446.0 L211.1 1446.0 L212.1 1445.9 L213.1 1445.8 L214.1 1445.6 L215.1 1445.5 L216.1 1445.2 L217.1 1445.0 L218.1 1444.7 L219.1 1444.4 L220.1 1444.0 L221.1 1443.7 L222.1 1443.3 L223.1 1442.9 L224.1 1442.4 L225.1 1442.0 L226.1 1441.6 L227.1 1441.1 L228.1 1440.7 L229.1 1440.2 L230.1 1439.7 L231.1 1439.0 L232.1 1438.4 L233.1 1437.6 L234.1 1436.8 L235.1 1436.0 L236.1 1435.0 L237.1 1434.1 L238.1 1433.1 L239.1 1432.0 L240.1 1430.9 L241.1 1429.7 L242.1 1428.5 L243.1 1427.3 L244.1 1426.0 L245.1 1424.7 L246.1 1423.4 L247.1 1422.0 L248.1 1420.6 L249.1 1419.2 L250.1 1417.8 L251.1 1416.4 L252.1 1414.9 L253.1 1413.4 L254.1 1411.9 L255.1 1410.4 L256.1 1409.0 L257.1 1407.4 L258.1 1405.8 L259.1 1404.1 L260.1 1402.3 L261.1 1400.5 L262.1 1398.6 L263.1 1396.7 L264.1 1394.7 L265.1 1392.6 L266.1 1390.4 L267.1 1388.3 L268.1 1386.0 L269.1 1383.7 L270.1 1381.4 L271.1 1379.0 L272.1 1376.6 L273.1 1374.2 L274.1 1371.6 L275.1 1368.9 L276.1 1366.1 L277.1 1363.2 L278.1 1360.1 L279.1 1357.0 L280.1 1353.9 L281.1 1350.7 L282.1 1347.4 L283.1 1344.1 L284.1 1340.7 L285.1 1337.1 L286.1 1333.5 L287.1 1329.7 L288.1 1326.0 L289.1 1322.2 L290.0 1318.5 L291.0 1314.8 L292.0 1311.2 L292.9 1307.8 L293.9 1304.4 L294.8 1301.1 L295.8 1297.7 L296.7 1294.1 L297.7 1290.4 L298.6 1286.4 L299.6 1282.0 L300.5 1277.1 L301.5 1271.8 L302.5 1266.5 L303.4 1261.4 L304.4 1256.8 L305.3 1252.6 L306.3 1248.6 L307.2 1244.7 L308.2 1241.0 L309.2 1237.4 L310.1 1233.8 L311.1 1230.1 L312.0 1226.4 L313.0 1222.5 L313.9 1218.5 L314.9 1214.4 L315.8 1210.3 L316.7 1206.0 L317.7 1201.8 L318.6 1197.5 L319.5 1193.2 L320.5 1188.9 L321.4 1184.6 L322.3 1180.3 L323.3 1175.9 L324.2 1171.4 L325.1 1167.0 L326.1 1162.7 L327.0 1158.6 L327.9 1154.7 L328.9 1150.9 L329.8 1147.3 L330.8 1143.7 L331.7 1140.2 L332.7 1136.8 L333.7 1133.5 L334.7 1130.3 L335.6 1127.2 L336.6 1124.1 L337.6 1121.1 L338.6 1118.1 L339.6 1115.2 L340.6 1112.4 L341.6 1109.8 L342.6 1107.3 L343.6 1105.0 L344.6 1102.8 L345.6 1100.8 L346.6 1098.8 L347.6 1096.9 L348.6 1095.0 L349.6 1093.2 L350.6 1091.5 L351.6 1089.8 L352.6 1088.2 L353.6 1086.7 L354.6 1085.2 L355.6 1083.7 L356.6 1082.3 L357.6 1080.9 L358.6 1079.6 L359.6 1078.2 L360.6 1076.8 L361.6 1075.4 L362.6 1074.1 L363.6 1072.8 L364.7 1071.6 L365.7 1070.3 L366.7 1069.2 L367.8 1068.1 L368.9 1067.0 L370.0 1066.1 L371.2 1065.2 L372.4 1064.4 L373.5 1063.7 L374.6 1063.1 L375.6 1062.6 L376.7 1062.1 L377.7 1061.6 L378.8 1061.1 L379.8 1060.7 L380.8 1060.3 L381.9 1059.8 L382.9 1059.5 L384.0 1059.1 L385.0 1058.8 L386.1 1058.5 L387.1 1058.3 L388.2 1058.0 L389.2 1057.8 L390.2 1057.5 L391.3 1057.3 L392.3 1057.1 L393.3 1056.9 L394.3 1056.7 L395.3 1056.5 L396.3 1056.2 L397.4 1056.0 L398.4 1055.8 L399.4 1055.6 L400.4 1055.4 L401.4 1055.2 L402.5 1055.0 L403.5 1054.8 L404.5 1054.6 L405.5 1054.4 L406.6 1054.2 L407.6 1054.1 L408.6 1053.9 L409.6 1053.7 L410.7 1053.6 L411.7 1053.4 L412.7 1053.3 L413.7 1053.2 L414.8 1053.1 L415.8 1053.0 L416.8 1052.9 L417.9 1052.8 L418.9 1052.8 L419.9 1052.7 L420.9 1052.6 L421.9 1052.6 L422.9 1052.5 L423.9 1052.5 L424.9 1052.4 L425.9 1052.4 L427.0 1052.3 L428.0 1052.3 L429.0 1052.2 L430.0 1052.2 L431.0 1052.2 L432.0 1052.1 L433.0 1052.1 L434.0 1052.1 L435.0 1052.0 L436.0 1052.0 L437.0 1052.0 L438.0 1052.0 L439.1 1052.0 L440.1 1052.0 L441.1 1052.0 L442.1 1052.0 L443.1 1052.0 L444.1 1052.0 L445.1 1052.0 L446.1 1052.0 L447.1 1052.1 L448.1 1052.1 L449.1 1052.2 L449.8 1052.2" fill="none" stroke="#0000FF" stroke-opacity="0.5" stroke-width="19.8" stroke-dasharray="76.5 32" stroke-dashoffset="0"/>
<path d="M185.4 1455.5L204.4 1436.5L223.4 1455.5L204.4 1474.5Z" fill="#0000FF" fill-opacity="0.5" stroke="#000" stroke-width="2.9" stroke-linejoin="miter"/>
<path d="M191.1 1450.3L210.1 1431.3L229.1 1450.3L210.1 1469.3Z" fill="#0000FF" fill-opacity="0.5" stroke="#000" stroke-width="2.9" stroke-linejoin="miter"/>
<path d="M209.3 1440.6L228.3 1421.6L247.3 1440.6L228.3 1459.6Z" fill="#0000FF" fill-opacity="0.5" stroke="#000" stroke-width="2.9" stroke-linejoin="miter"/>
<path d="M237.0 1409.0L256.0 1390.0L275.0 1409.0L256.0 1428.0Z" fill="#0000FF" fill-opacity="0.5" stroke="#000" stroke-width="2.9" stroke-linejoin="miter"/>
<path d="M254.0 1374.4L273.0 1355.4L292.0 1374.4L273.0 1393.4Z" fill="#0000FF" fill-opacity="0.5" stroke="#000" stroke-width="2.9" stroke-linejoin="miter"/>
<path d="M264.0 1344.3L283.0 1325.3L302.0 1344.3L283.0 1363.3Z" fill="#0000FF" fill-opacity="0.5" stroke="#000" stroke-width="2.9" stroke-linejoin="miter"/>
<path d="M295.5 1221.1L314.5 1202.1L333.5 1221.1L314.5 1240.1Z" fill="#0000FF" fill-opacity="0.5" stroke="#000" stroke-width="2.9" stroke-linejoin="miter"/>
<path d="M355.5 1067.0L374.5 1048.0L393.5 1067.0L374.5 1086.0Z" fill="#0000FF" fill-opacity="0.5" stroke="#000" stroke-width="2.9" stroke-linejoin="miter"/>
<path d="M430.8 1052.2L449.8 1033.2L468.8 1052.2L449.8 1071.2Z" fill="#0000FF" fill-opacity="0.5" stroke="#000" stroke-width="2.9" stroke-linejoin="miter"/>
<path d="M430.8 1052.2L449.8 1033.2L468.8 1052.2L449.8 1071.2Z" fill="#0000FF" fill-opacity="0.5" stroke="#000" stroke-width="2.9" stroke-linejoin="miter"/>
</g>
<g stroke="#000" stroke-width="3.3"><line x1="209.9" y1="1038.3" x2="209.9" y2="1463.25"/><line x1="208.25" y1="1461.6" x2="571.4" y2="1461.6"/></g>
<g font-family="'DejaVu Sans', Verdana, sans-serif" font-size="47.6" fill="#000" stroke="#000" stroke-width="0.8"><text x="209.9" y="1510.6" text-anchor="middle">0</text><text x="322.8" y="1510.6" text-anchor="middle">10</text><text x="435.7" y="1510.6" text-anchor="middle">20</text><text x="548.6" y="1510.6" text-anchor="middle">30</text><text x="197.5" y="1468.7" text-anchor="end">0.00</text><text x="197.5" y="1369.3" text-anchor="end">0.25</text><text x="197.5" y="1269.9" text-anchor="end">0.50</text><text x="197.5" y="1170.5" text-anchor="end">0.75</text><text x="197.5" y="1071.1" text-anchor="end">1.00</text></g>
<text x="404" y="988.3" text-anchor="middle" font-family="'Liberation Sans', Arial, Helvetica, sans-serif" font-size="42.8" fill="#000" stroke="#000" stroke-width="0.7">Participant 1</text>
<g stroke="#000" stroke-opacity="0.1" stroke-width="1.6"><line x1="817.7" y1="1038.3" x2="817.7" y2="1461.6"/><line x1="930.6" y1="1038.3" x2="930.6" y2="1461.6"/><line x1="1043.5" y1="1038.3" x2="1043.5" y2="1461.6"/><line x1="704.8" y1="1450" x2="1066.5" y2="1450"/><line x1="704.8" y1="1350.6" x2="1066.5" y2="1350.6"/><line x1="704.8" y1="1251.2" x2="1066.5" y2="1251.2"/><line x1="704.8" y1="1151.8" x2="1066.5" y2="1151.8"/><line x1="704.8" y1="1052.4" x2="1066.5" y2="1052.4"/></g>
<g stroke="#000" stroke-width="2.6"><line x1="704.8" y1="1461.6" x2="704.8" y2="1449.6"/><line x1="817.7" y1="1461.6" x2="817.7" y2="1449.6"/><line x1="930.6" y1="1461.6" x2="930.6" y2="1449.6"/><line x1="1043.5" y1="1461.6" x2="1043.5" y2="1449.6"/><line x1="704.8" y1="1450" x2="716.8" y2="1450"/><line x1="704.8" y1="1350.6" x2="716.8" y2="1350.6"/><line x1="704.8" y1="1251.2" x2="716.8" y2="1251.2"/><line x1="704.8" y1="1151.8" x2="716.8" y2="1151.8"/><line x1="704.8" y1="1052.4" x2="716.8" y2="1052.4"/></g>
<clipPath id="cb1"><rect x="704.8" y="1038.3" width="361.7" height="423.3"/></clipPath>
<g clip-path="url(#cb1)">
<path d="M704.9 1441.8 L705.9 1441.8 L706.9 1441.8 L707.9 1441.7 L708.9 1441.7 L709.9 1441.6 L710.9 1441.5 L711.9 1441.4 L712.9 1441.3 L713.9 1441.2 L714.9 1441.0 L715.9 1440.9 L716.9 1440.7 L717.9 1440.5 L718.9 1440.4 L719.9 1440.2 L720.9 1440.0 L721.9 1439.7 L722.9 1439.5 L723.9 1439.3 L724.9 1439.0 L725.9 1438.8 L726.9 1438.5 L727.9 1438.3 L728.9 1438.0 L729.9 1437.6 L730.9 1437.2 L731.9 1436.6 L732.9 1436.0 L733.9 1435.3 L734.9 1434.5 L735.9 1433.6 L736.9 1432.6 L737.9 1431.6 L738.9 1430.5 L739.9 1429.3 L740.9 1428.1 L741.9 1426.8 L742.9 1425.4 L743.9 1424.1 L744.9 1422.6 L745.9 1421.2 L746.9 1419.7 L747.9 1418.1 L748.9 1416.6 L749.9 1415.0 L750.9 1413.4 L751.9 1411.8 L752.9 1410.1 L753.9 1408.5 L754.9 1406.8 L755.9 1405.2 L756.9 1403.6 L757.9 1401.8 L758.9 1400.0 L759.9 1398.0 L760.9 1395.9 L761.9 1393.7 L762.9 1391.4 L763.9 1389.1 L764.9 1386.7 L765.9 1384.3 L766.9 1381.8 L767.9 1379.3 L768.9 1376.8 L769.9 1374.2 L770.9 1371.7 L771.9 1369.2 L772.9 1366.6 L773.9 1363.9 L774.9 1361.1 L775.9 1358.3 L776.9 1355.4 L777.9 1352.4 L778.9 1349.4 L779.9 1346.6 L780.9 1343.8 L781.9 1341.1 L782.9 1338.1 L783.9 1334.7 L784.9 1330.9 L785.9 1326.9 L786.9 1322.9 L787.9 1318.8 L788.9 1314.8 L789.9 1310.8 L790.9 1306.7 L791.9 1302.7 L792.9 1298.6 L793.9 1294.6 L794.9 1290.7 L795.9 1286.8 L796.9 1282.9 L797.9 1279.0 L798.9 1275.0 L799.9 1271.0 L800.9 1266.9 L801.9 1262.8 L802.9 1258.7 L803.9 1254.6 L804.9 1250.6 L805.9 1246.6 L806.9 1242.6 L807.9 1238.6 L808.9 1234.6 L809.9 1230.6 L810.9 1226.6 L811.9 1222.6 L812.9 1218.6 L813.9 1214.6 L814.9 1210.6 L815.9 1206.6 L816.9 1202.6 L817.9 1198.6 L818.9 1194.6 L819.9 1190.6 L820.9 1186.6 L821.9 1182.6 L822.9 1178.6 L823.9 1174.6 L824.9 1170.6 L825.9 1166.5 L826.9 1162.4 L827.9 1158.5 L828.9 1154.8 L829.9 1151.2 L830.9 1147.8 L831.9 1144.4 L832.9 1141.2 L833.9 1138.1 L834.9 1135.1 L835.9 1132.2 L836.9 1129.3 L837.9 1126.6 L838.9 1123.9 L839.9 1121.2 L840.9 1118.7 L841.9 1116.2 L842.9 1113.8 L843.9 1111.4 L844.9 1109.1 L845.9 1106.8 L846.9 1104.6 L847.9 1102.5 L848.9 1100.4 L849.9 1098.5 L850.9 1096.7 L851.9 1095.0 L852.9 1093.3 L853.9 1091.7 L854.9 1090.1 L855.9 1088.6 L856.9 1087.1 L857.9 1085.7 L858.9 1084.3 L859.9 1083.0 L860.9 1081.8 L861.9 1080.6 L862.9 1079.5 L863.9 1078.4 L864.9 1077.4 L865.9 1076.3 L866.9 1075.3 L867.9 1074.3 L868.9 1073.3 L869.9 1072.3 L870.9 1071.4 L871.9 1070.5 L872.9 1069.6 L873.9 1068.8 L874.9 1068.0 L875.9 1067.2 L876.9 1066.5 L877.9 1065.8 L878.9 1065.2 L879.9 1064.6 L880.9 1064.0 L881.9 1063.5 L882.9 1063.1 L883.9 1062.6 L884.9 1062.2 L885.9 1061.7 L886.9 1061.3 L887.9 1061.0 L888.9 1060.6 L889.9 1060.2 L890.9 1059.9 L891.9 1059.6 L892.9 1059.3 L893.9 1059.0 L894.9 1058.7 L895.9 1058.4 L896.9 1058.1 L897.9 1057.8 L898.9 1057.6 L899.9 1057.3 L900.9 1057.1 L901.9 1056.8 L902.9 1056.6 L903.9 1056.3 L904.9 1056.1 L905.9 1055.8 L906.9 1055.6 L907.9 1055.4 L908.9 1055.2 L909.9 1054.9 L910.9 1054.7 L911.9 1054.6 L912.9 1054.4 L913.9 1054.2 L914.9 1054.1 L915.9 1053.9 L916.9 1053.8 L917.9 1053.7 L918.9 1053.6 L919.9 1053.5 L920.9 1053.4 L921.9 1053.4 L922.9 1053.3 L923.9 1053.2 L924.9 1053.1 L925.9 1053.0 L926.9 1052.9 L927.9 1052.9 L928.9 1052.8 L929.9 1052.7 L930.9 1052.7 L931.9 1052.6 L932.9 1052.5 L933.9 1052.5 L934.9 1052.4 L935.9 1052.4 L936.9 1052.4 L937.9 1052.3 L938.9 1052.3 L939.9 1052.3 L940.9 1052.3 L941.9 1052.3 L942.9 1052.2 L942.9 1052.2" fill="none" stroke="#009AFA" stroke-width="13.2" stroke-dasharray="53.5 19.8" stroke-dashoffset="0"/>
<path d="M704.9 1441.8 L705.9 1441.8 L706.9 1441.8 L707.9 1441.7 L708.9 1441.7 L709.9 1441.6 L710.9 1441.5 L711.9 1441.4 L712.9 1441.3 L713.9 1441.2 L714.9 1441.0 L715.9 1440.9 L716.9 1440.7 L717.9 1440.5 L718.9 1440.4 L719.9 1440.2 L720.9 1440.0 L721.9 1439.7 L722.9 1439.5 L723.9 1439.3 L724.9 1439.0 L725.9 1438.8 L726.9 1438.5 L727.9 1438.3 L728.9 1438.0 L729.9 1437.6 L730.9 1437.2 L731.9 1436.6 L732.9 1436.0 L733.9 1435.3 L734.9 1434.5 L735.9 1433.6 L736.9 1432.6 L737.9 1431.6 L738.9 1430.5 L739.9 1429.3 L740.9 1428.1 L741.9 1426.8 L742.9 1425.4 L743.9 1424.1 L744.9 1422.6 L745.9 1421.2 L746.9 1419.7 L747.9 1418.1 L748.9 1416.6 L749.9 1415.0 L750.9 1413.4 L751.9 1411.8 L752.9 1410.1 L753.9 1408.5 L754.9 1406.8 L755.9 1405.2 L756.9 1403.6 L757.9 1401.8 L758.9 1400.0 L759.9 1398.0 L760.9 1395.9 L761.9 1393.7 L762.9 1391.4 L763.9 1389.1 L764.9 1386.7 L765.9 1384.3 L766.9 1381.8 L767.9 1379.3 L768.9 1376.8 L769.9 1374.2 L770.9 1371.7 L771.9 1369.2 L772.9 1366.6 L773.9 1363.9 L774.9 1361.1 L775.9 1358.3 L776.9 1355.4 L777.9 1352.4 L778.9 1349.4 L779.9 1346.6 L780.9 1343.8 L781.9 1341.1 L782.9 1338.1 L783.9 1334.7 L784.8 1330.9 L785.8 1326.9 L786.7 1322.8 L787.7 1318.7 L788.6 1314.7 L789.6 1310.7 L790.5 1306.7 L791.5 1302.6 L792.4 1298.5 L793.4 1294.5 L794.3 1290.5 L795.3 1286.6 L796.2 1282.7 L797.2 1278.8 L798.1 1274.8 L799.1 1270.8 L800.0 1266.7 L801.0 1262.5 L801.9 1258.4 L802.9 1254.4 L803.8 1250.3 L804.8 1246.3 L805.7 1242.3 L806.7 1238.3 L807.6 1234.3 L808.5 1230.3 L809.5 1226.3 L810.4 1222.3 L811.4 1218.3 L812.3 1214.2 L813.3 1210.2 L814.2 1206.2 L815.1 1202.2 L816.1 1198.2 L817.0 1194.2 L818.0 1190.2 L818.9 1186.1 L819.9 1182.1 L820.8 1178.1 L821.8 1174.1 L822.7 1170.1 L823.6 1165.9 L824.6 1161.8 L825.5 1157.8 L826.5 1154.1 L827.5 1150.5 L828.5 1147.0 L829.4 1143.7 L830.4 1140.4 L831.4 1137.3 L832.4 1134.3 L833.4 1131.3 L834.4 1128.4 L835.4 1125.6 L836.4 1122.9 L837.3 1120.2 L838.3 1117.7 L839.3 1115.2 L840.3 1112.7 L841.3 1110.3 L842.3 1107.9 L843.3 1105.6 L844.3 1103.4 L845.3 1101.2 L846.3 1099.1 L847.3 1097.1 L848.3 1095.3 L849.3 1093.5 L850.3 1091.8 L851.3 1090.1 L852.2 1088.4 L853.2 1086.8 L854.2 1085.3 L855.2 1083.8 L856.2 1082.3 L857.2 1080.9 L858.2 1079.6 L859.3 1078.3 L860.3 1077.1 L861.3 1076.0 L862.2 1074.9 L863.2 1073.8 L864.2 1072.7 L865.2 1071.6 L866.2 1070.5 L867.2 1069.5 L868.2 1068.5 L869.2 1067.5 L870.3 1066.5 L871.3 1065.6 L872.3 1064.7 L873.4 1063.9 L874.4 1063.0 L875.5 1062.2 L876.6 1061.5 L877.7 1060.8 L878.9 1060.2 L880.0 1059.7 L881.2 1059.3 L882.2 1058.9 L883.3 1058.5 L884.4 1058.2 L885.5 1057.8 L886.6 1057.5 L887.7 1057.2 L888.7 1056.9 L889.8 1056.6 L890.9 1056.4 L891.9 1056.1 L893.0 1055.9 L894.0 1055.7 L895.1 1055.5 L896.1 1055.3 L897.2 1055.1 L898.2 1054.9 L899.2 1054.7 L900.3 1054.5 L901.3 1054.4 L902.3 1054.2 L903.3 1054.0 L904.4 1053.9 L905.4 1053.7 L906.4 1053.6 L907.5 1053.4 L908.5 1053.2 L909.5 1053.1 L910.6 1052.9 L911.6 1052.8 L912.6 1052.7 L913.6 1052.6 L914.7 1052.5 L915.7 1052.4 L916.7 1052.4 L917.8 1052.3 L918.8 1052.3 L919.8 1052.2 L920.8 1052.2 L921.8 1052.2 L922.8 1052.1 L923.8 1052.1 L924.8 1052.1 L925.8 1052.1 L926.8 1052.1 L927.8 1052.0 L928.8 1052.0 L929.9 1052.0 L930.9 1052.0 L931.9 1052.0 L932.9 1052.0 L933.9 1052.0 L934.9 1052.0 L935.9 1052.0 L936.9 1052.1 L937.9 1052.1 L938.9 1052.1 L939.9 1052.2 L940.9 1052.2 L941.9 1052.3 L942.9 1052.2 L942.9 1052.2" fill="none" stroke="#FF0000" stroke-opacity="0.5" stroke-width="19.8" stroke-dasharray="76.5 32.9" stroke-dashoffset="0"/>
<path d="M686.0 1450.3L705.0 1431.3L724.0 1450.3L705.0 1469.3Z" fill="#FF0000" fill-opacity="0.5" stroke="#000" stroke-width="2.9" stroke-linejoin="miter"/>
<path d="M709.7 1438.1L728.7 1419.1L747.7 1438.1L728.7 1457.1Z" fill="#FF0000" fill-opacity="0.5" stroke="#000" stroke-width="2.9" stroke-linejoin="miter"/>
<path d="M737.6 1404.0L756.6 1385.0L775.6 1404.0L756.6 1423.0Z" fill="#FF0000" fill-opacity="0.5" stroke="#000" stroke-width="2.9" stroke-linejoin="miter"/>
<path d="M752.2 1370.9L771.2 1351.9L790.2 1370.9L771.2 1389.9Z" fill="#FF0000" fill-opacity="0.5" stroke="#000" stroke-width="2.9" stroke-linejoin="miter"/>
<path d="M757.1 1357.8L776.1 1338.8L795.1 1357.8L776.1 1376.8Z" fill="#FF0000" fill-opacity="0.5" stroke="#000" stroke-width="2.9" stroke-linejoin="miter"/>
<path d="M760.4 1348.1L779.4 1329.1L798.4 1348.1L779.4 1367.1Z" fill="#FF0000" fill-opacity="0.5" stroke="#000" stroke-width="2.9" stroke-linejoin="miter"/>
<path d="M764.0 1337.8L783.0 1318.8L802.0 1337.8L783.0 1356.8Z" fill="#FF0000" fill-opacity="0.5" stroke="#000" stroke-width="2.9" stroke-linejoin="miter"/>
<path d="M769.2 1317.4L788.2 1298.4L807.2 1317.4L788.2 1336.4Z" fill="#FF0000" fill-opacity="0.5" stroke="#000" stroke-width="2.9" stroke-linejoin="miter"/>
<path d="M780.4 1272.9L799.4 1253.9L818.4 1272.9L799.4 1291.9Z" fill="#FF0000" fill-opacity="0.5" stroke="#000" stroke-width="2.9" stroke-linejoin="miter"/>
<path d="M923.9 1052.2L942.9 1033.2L961.9 1052.2L942.9 1071.2Z" fill="#FF0000" fill-opacity="0.5" stroke="#000" stroke-width="2.9" stroke-linejoin="miter"/>
</g>
<g stroke="#000" stroke-width="3.3"><line x1="704.8" y1="1038.3" x2="704.8" y2="1463.25"/><line x1="703.15" y1="1461.6" x2="1066.5" y2="1461.6"/></g>
<g font-family="'DejaVu Sans', Verdana, sans-serif" font-size="47.6" fill="#000" stroke="#000" stroke-width="0.8"><text x="704.8" y="1510.6" text-anchor="middle">0</text><text x="817.7" y="1510.6" text-anchor="middle">10</text><text x="930.6" y="1510.6" text-anchor="middle">20</text><text x="1043.5" y="1510.6" text-anchor="middle">30</text><text x="692.4" y="1468.7" text-anchor="end">0.00</text><text x="692.4" y="1369.3" text-anchor="end">0.25</text><text x="692.4" y="1269.9" text-anchor="end">0.50</text><text x="692.4" y="1170.5" text-anchor="end">0.75</text><text x="692.4" y="1071.1" text-anchor="end">1.00</text></g>
<text x="889.2" y="988.3" text-anchor="middle" font-family="'Liberation Sans', Arial, Helvetica, sans-serif" font-size="42.8" fill="#000" stroke="#000" stroke-width="0.7">Participant 2</text>
<g stroke="#000" stroke-opacity="0.1" stroke-width="1.6"><line x1="1312.1" y1="1038.3" x2="1312.1" y2="1461.6"/><line x1="1425" y1="1038.3" x2="1425" y2="1461.6"/><line x1="1537.9" y1="1038.3" x2="1537.9" y2="1461.6"/><line x1="1199.2" y1="1450" x2="1561.5" y2="1450"/><line x1="1199.2" y1="1350.6" x2="1561.5" y2="1350.6"/><line x1="1199.2" y1="1251.2" x2="1561.5" y2="1251.2"/><line x1="1199.2" y1="1151.8" x2="1561.5" y2="1151.8"/><line x1="1199.2" y1="1052.4" x2="1561.5" y2="1052.4"/></g>
<g stroke="#000" stroke-width="2.6"><line x1="1199.2" y1="1461.6" x2="1199.2" y2="1449.6"/><line x1="1312.1" y1="1461.6" x2="1312.1" y2="1449.6"/><line x1="1425" y1="1461.6" x2="1425" y2="1449.6"/><line x1="1537.9" y1="1461.6" x2="1537.9" y2="1449.6"/><line x1="1199.2" y1="1450" x2="1211.2" y2="1450"/><line x1="1199.2" y1="1350.6" x2="1211.2" y2="1350.6"/><line x1="1199.2" y1="1251.2" x2="1211.2" y2="1251.2"/><line x1="1199.2" y1="1151.8" x2="1211.2" y2="1151.8"/><line x1="1199.2" y1="1052.4" x2="1211.2" y2="1052.4"/></g>
<clipPath id="cb2"><rect x="1199.2" y="1038.3" width="362.3" height="423.3"/></clipPath>
<g clip-path="url(#cb2)">
<path d="M1199.4 1445.3 L1200.4 1445.3 L1201.4 1445.3 L1202.4 1445.2 L1203.4 1445.2 L1204.4 1445.1 L1205.4 1445.0 L1206.4 1444.9 L1207.4 1444.8 L1208.4 1444.7 L1209.4 1444.6 L1210.4 1444.4 L1211.4 1444.3 L1212.4 1444.1 L1213.4 1444.0 L1214.4 1443.8 L1215.4 1443.6 L1216.4 1443.5 L1217.4 1443.3 L1218.4 1443.0 L1219.4 1442.7 L1220.4 1442.4 L1221.4 1442.0 L1222.4 1441.5 L1223.4 1441.0 L1224.4 1440.5 L1225.4 1440.0 L1226.4 1439.4 L1227.4 1438.8 L1228.4 1438.1 L1229.4 1437.5 L1230.4 1436.8 L1231.4 1436.2 L1232.4 1435.5 L1233.4 1434.8 L1234.4 1434.2 L1235.4 1433.5 L1236.4 1432.8 L1237.4 1432.1 L1238.4 1431.4 L1239.4 1430.6 L1240.4 1429.8 L1241.4 1429.0 L1242.4 1428.1 L1243.4 1427.2 L1244.4 1426.3 L1245.4 1425.3 L1246.4 1424.3 L1247.4 1423.3 L1248.4 1422.3 L1249.4 1421.2 L1250.4 1420.1 L1251.4 1418.9 L1252.4 1417.7 L1253.4 1416.4 L1254.4 1415.0 L1255.4 1413.6 L1256.4 1412.1 L1257.4 1410.6 L1258.4 1408.9 L1259.4 1407.2 L1260.4 1405.3 L1261.4 1403.4 L1262.4 1401.5 L1263.4 1399.4 L1264.4 1397.4 L1265.4 1395.3 L1266.4 1393.2 L1267.4 1391.1 L1268.4 1389.0 L1269.4 1386.8 L1270.4 1384.7 L1271.4 1382.6 L1272.4 1380.4 L1273.4 1378.2 L1274.4 1376.0 L1275.4 1373.7 L1276.4 1371.4 L1277.4 1369.1 L1278.4 1366.7 L1279.4 1364.2 L1280.4 1361.7 L1281.4 1359.1 L1282.4 1356.5 L1283.4 1353.7 L1284.4 1350.9 L1285.4 1348.0 L1286.4 1345.0 L1287.4 1342.0 L1288.4 1338.6 L1289.4 1334.8 L1290.4 1330.7 L1291.4 1326.5 L1292.4 1322.3 L1293.4 1318.3 L1294.4 1314.6 L1295.4 1311.2 L1296.4 1308.0 L1297.4 1304.9 L1298.4 1301.8 L1299.4 1298.6 L1300.4 1295.5 L1301.4 1292.4 L1302.4 1289.3 L1303.4 1286.1 L1304.4 1282.8 L1305.4 1279.2 L1306.4 1275.4 L1307.4 1271.3 L1308.4 1267.2 L1309.4 1263.2 L1310.4 1259.3 L1311.4 1255.7 L1312.4 1252.1 L1313.4 1248.5 L1314.4 1244.9 L1315.4 1241.1 L1316.4 1237.3 L1317.4 1233.2 L1318.4 1229.1 L1319.4 1225.1 L1320.4 1221.1 L1321.4 1217.3 L1322.4 1213.7 L1323.4 1210.1 L1324.4 1206.6 L1325.4 1203.0 L1326.4 1199.4 L1327.4 1195.7 L1328.4 1191.9 L1329.4 1188.1 L1330.4 1184.1 L1331.4 1179.9 L1332.4 1175.3 L1333.4 1170.5 L1334.4 1165.8 L1335.4 1161.3 L1336.4 1157.1 L1337.4 1153.4 L1338.4 1149.9 L1339.4 1146.5 L1340.4 1143.4 L1341.4 1140.5 L1342.4 1137.8 L1343.4 1135.3 L1344.4 1132.9 L1345.4 1130.7 L1346.4 1128.6 L1347.4 1126.5 L1348.4 1124.4 L1349.4 1122.4 L1350.4 1120.3 L1351.4 1118.2 L1352.4 1116.0 L1353.4 1113.9 L1354.4 1111.7 L1355.4 1109.6 L1356.4 1107.6 L1357.4 1105.7 L1358.4 1103.9 L1359.4 1102.2 L1360.4 1100.4 L1361.4 1098.8 L1362.4 1097.2 L1363.4 1095.6 L1364.4 1094.1 L1365.4 1092.6 L1366.4 1091.2 L1367.4 1089.9 L1368.4 1088.6 L1369.4 1087.4 L1370.4 1086.2 L1371.4 1085.0 L1372.4 1083.9 L1373.4 1082.8 L1374.4 1081.7 L1375.4 1080.7 L1376.4 1079.6 L1377.4 1078.7 L1378.4 1077.7 L1379.4 1076.8 L1380.4 1076.0 L1381.4 1075.2 L1382.4 1074.4 L1383.4 1073.7 L1384.4 1072.9 L1385.4 1072.3 L1386.4 1071.6 L1387.4 1071.0 L1388.4 1070.3 L1389.4 1069.8 L1390.4 1069.2 L1391.4 1068.7 L1392.4 1068.2 L1393.4 1067.7 L1394.4 1067.2 L1395.4 1066.7 L1396.4 1066.2 L1397.4 1065.8 L1398.4 1065.3 L1399.4 1064.9 L1400.4 1064.4 L1401.4 1064.0 L1402.4 1063.6 L1403.4 1063.2 L1404.4 1062.8 L1405.4 1062.4 L1406.4 1062.1 L1407.4 1061.7 L1408.4 1061.4 L1409.4 1061.0 L1410.4 1060.7 L1411.4 1060.4 L1412.4 1060.1 L1413.4 1059.8 L1414.4 1059.5 L1415.4 1059.2 L1416.4 1059.0 L1417.4 1058.7 L1418.4 1058.4 L1419.4 1058.2 L1420.4 1057.9 L1421.4 1057.7 L1422.4 1057.4 L1423.4 1057.2 L1424.4 1057.0 L1425.4 1056.8 L1426.4 1056.5 L1427.4 1056.3 L1428.4 1056.1 L1429.4 1056.0 L1430.4 1055.8 L1431.4 1055.6 L1432.4 1055.4 L1433.4 1055.3 L1434.4 1055.1 L1435.4 1055.0 L1436.4 1054.9 L1437.4 1054.7 L1438.4 1054.6 L1439.4 1054.5 L1440.4 1054.4 L1441.4 1054.2 L1442.4 1054.1 L1443.4 1054.0 L1444.4 1053.9 L1445.4 1053.8 L1446.4 1053.7 L1447.4 1053.6 L1448.4 1053.5 L1449.4 1053.4 L1450.4 1053.4 L1451.4 1053.3 L1452.4 1053.2 L1453.4 1053.1 L1454.4 1053.1 L1455.4 1053.0 L1456.4 1053.0 L1457.4 1052.9 L1458.4 1052.8 L1459.4 1052.8 L1460.4 1052.7 L1461.4 1052.7 L1462.4 1052.6 L1463.4 1052.6 L1464.4 1052.5 L1465.4 1052.5 L1466.4 1052.4 L1467.4 1052.4 L1468.4 1052.4 L1469.4 1052.3 L1470.4 1052.3 L1471.4 1052.2 L1472.4 1052.2 L1473.4 1052.2 L1474.4 1052.1 L1475.4 1052.1 L1476.4 1052.1 L1477.4 1052.0 L1478.4 1052.0 L1479.4 1052.0 L1480.4 1052.0 L1481.4 1052.0 L1482.4 1051.9 L1483.4 1051.9 L1484.4 1051.9 L1485.4 1051.9 L1486.4 1051.9" fill="none" stroke="#009AFA" stroke-width="13.2" stroke-dasharray="53.5 19.8" stroke-dashoffset="0"/>
<path d="M1199.4 1445.3 L1200.4 1445.3 L1201.4 1445.3 L1202.4 1445.2 L1203.4 1445.2 L1204.4 1445.1 L1205.4 1445.0 L1206.4 1444.9 L1207.4 1444.8 L1208.4 1444.7 L1209.4 1444.6 L1210.4 1444.4 L1211.4 1444.3 L1212.4 1444.1 L1213.4 1444.0 L1214.4 1443.8 L1215.4 1443.6 L1216.4 1443.5 L1217.4 1443.3 L1218.4 1443.0 L1219.4 1442.7 L1220.4 1442.4 L1221.4 1442.0 L1222.4 1441.5 L1223.4 1441.0 L1224.4 1440.5 L1225.4 1440.0 L1226.4 1439.4 L1227.4 1438.8 L1228.4 1438.1 L1229.4 1437.5 L1230.4 1436.8 L1231.4 1436.2 L1232.4 1435.5 L1233.4 1434.8 L1234.4 1434.2 L1235.4 1433.5 L1236.4 1432.8 L1237.4 1432.1 L1238.4 1431.4 L1239.4 1430.6 L1240.4 1429.8 L1241.4 1429.0 L1242.4 1428.1 L1243.4 1427.2 L1244.4 1426.3 L1245.4 1425.3 L1246.4 1424.3 L1247.4 1423.3 L1248.4 1422.3 L1249.4 1421.2 L1250.4 1420.1 L1251.4 1418.9 L1252.4 1417.7 L1253.4 1416.4 L1254.4 1415.0 L1255.4 1413.6 L1256.4 1412.1 L1257.4 1410.6 L1258.4 1408.9 L1259.4 1407.2 L1260.4 1405.3 L1261.4 1403.4 L1262.4 1401.5 L1263.4 1399.4 L1264.4 1397.4 L1265.4 1395.3 L1266.4 1393.2 L1267.4 1391.1 L1268.4 1389.0 L1269.4 1386.8 L1270.4 1384.7 L1271.4 1382.6 L1272.4 1380.4 L1273.4 1378.2 L1274.4 1376.0 L1275.4 1373.7 L1276.4 1371.4 L1277.4 1369.1 L1278.4 1366.7 L1279.4 1364.2 L1280.4 1361.7 L1281.4 1359.1 L1282.4 1356.5 L1283.4 1353.7 L1284.4 1350.9 L1285.4 1348.0 L1286.4 1345.0 L1287.4 1342.0 L1288.4 1338.6 L1289.4 1334.8 L1290.4 1330.7 L1291.4 1326.5 L1292.3 1322.3 L1293.3 1318.2 L1294.3 1314.6 L1295.3 1311.2 L1296.2 1308.0 L1297.2 1304.8 L1298.2 1301.7 L1299.2 1298.6 L1300.1 1295.4 L1301.1 1292.3 L1302.1 1289.2 L1303.1 1286.0 L1304.0 1282.7 L1305.0 1279.1 L1306.0 1275.3 L1307.0 1271.2 L1307.9 1267.1 L1308.9 1263.1 L1309.9 1259.2 L1310.8 1255.5 L1311.8 1251.9 L1312.7 1248.3 L1313.7 1244.7 L1314.7 1240.9 L1315.6 1237.0 L1316.6 1233.0 L1317.5 1228.9 L1318.5 1224.8 L1319.4 1220.8 L1320.4 1217.0 L1321.3 1213.4 L1322.3 1209.8 L1323.2 1206.3 L1324.2 1202.7 L1325.1 1199.0 L1326.1 1195.3 L1327.0 1191.6 L1328.0 1187.8 L1328.9 1183.8 L1329.9 1179.5 L1330.9 1174.9 L1331.8 1170.2 L1332.8 1165.5 L1333.8 1160.9 L1334.7 1156.7 L1335.7 1152.9 L1336.7 1149.4 L1337.7 1146.0 L1338.6 1142.8 L1339.6 1139.9 L1340.6 1137.1 L1341.6 1134.5 L1342.6 1132.1 L1343.6 1129.9 L1344.5 1127.7 L1345.5 1125.6 L1346.5 1123.5 L1347.5 1121.4 L1348.4 1119.3 L1349.3 1117.2 L1350.2 1115.0 L1351.1 1112.8 L1352.0 1110.6 L1353.0 1108.5 L1353.9 1106.4 L1354.8 1104.3 L1355.8 1102.4 L1356.7 1100.6 L1357.6 1098.8 L1358.5 1097.0 L1359.5 1095.3 L1360.4 1093.6 L1361.3 1092.0 L1362.3 1090.4 L1363.2 1088.9 L1364.1 1087.4 L1365.1 1086.0 L1366.0 1084.6 L1366.9 1083.3 L1367.9 1082.0 L1368.8 1080.7 L1369.7 1079.4 L1370.7 1078.2 L1371.7 1077.0 L1372.6 1075.8 L1373.6 1074.7 L1374.6 1073.6 L1375.6 1072.5 L1376.6 1071.4 L1377.7 1070.5 L1378.8 1069.7 L1379.9 1068.9 L1381.0 1068.1 L1382.1 1067.4 L1383.2 1066.7 L1384.3 1066.0 L1385.4 1065.4 L1386.5 1064.8 L1387.6 1064.2 L1388.8 1063.6 L1389.8 1063.1 L1390.9 1062.6 L1391.9 1062.1 L1393.0 1061.6 L1394.0 1061.2 L1395.1 1060.7 L1396.2 1060.3 L1397.2 1059.8 L1398.3 1059.4 L1399.3 1059.0 L1400.4 1058.6 L1401.5 1058.3 L1402.5 1058.0 L1403.6 1057.7 L1404.7 1057.4 L1405.8 1057.1 L1406.9 1056.9 L1408.0 1056.6 L1409.0 1056.4 L1410.1 1056.2 L1411.2 1056.0 L1412.3 1055.8 L1413.3 1055.6 L1414.4 1055.4 L1415.4 1055.3 L1416.5 1055.1 L1417.5 1055.0 L1418.5 1054.8 L1419.6 1054.6 L1420.6 1054.4 L1421.6 1054.2 L1422.7 1054.0 L1423.7 1053.9 L1424.7 1053.7 L1425.8 1053.5 L1426.8 1053.4 L1427.8 1053.3 L1428.9 1053.1 L1429.9 1053.0 L1430.9 1052.9 L1432.0 1052.8 L1433.0 1052.7 L1434.0 1052.6 L1435.1 1052.6 L1436.1 1052.5 L1437.1 1052.5 L1438.1 1052.5 L1439.1 1052.5 L1440.2 1052.4 L1441.2 1052.4 L1442.2 1052.4 L1443.2 1052.4 L1444.2 1052.4 L1445.3 1052.4 L1446.3 1052.4 L1447.3 1052.4 L1448.3 1052.4 L1449.3 1052.4 L1450.3 1052.5 L1451.3 1052.5 L1452.4 1052.5 L1453.4 1052.5 L1454.4 1052.5 L1455.4 1052.5 L1456.4 1052.4 L1457.4 1052.4 L1458.4 1052.3 L1459.4 1052.3 L1460.4 1052.3 L1461.4 1052.2 L1462.4 1052.2 L1463.4 1052.2 L1464.4 1052.1 L1465.4 1052.1 L1466.4 1052.1 L1467.4 1052.1 L1468.4 1052.0 L1469.4 1052.0 L1470.4 1052.0 L1471.4 1052.0 L1472.4 1051.9 L1473.4 1051.9 L1474.4 1051.9 L1475.4 1051.9 L1476.4 1051.9 L1477.4 1051.9 L1478.4 1051.9 L1479.4 1051.9 L1480.4 1051.9 L1481.4 1051.9 L1482.4 1051.9 L1483.4 1051.9 L1484.4 1051.9 L1485.4 1051.9 L1486.4 1051.9" fill="none" stroke="#FF8C00" stroke-opacity="0.5" stroke-width="19.8" stroke-dasharray="77 32.3" stroke-dashoffset="0"/>
<path d="M1180.4 1450.3L1199.4 1431.3L1218.4 1450.3L1199.4 1469.3Z" fill="#FF8C00" fill-opacity="0.5" stroke="#000" stroke-width="2.9" stroke-linejoin="miter"/>
<path d="M1216.5 1433.5L1235.5 1414.5L1254.5 1433.5L1235.5 1452.5Z" fill="#FF8C00" fill-opacity="0.5" stroke="#000" stroke-width="2.9" stroke-linejoin="miter"/>
<path d="M1228.0 1423.7L1247.0 1404.7L1266.0 1423.7L1247.0 1442.7Z" fill="#FF8C00" fill-opacity="0.5" stroke="#000" stroke-width="2.9" stroke-linejoin="miter"/>
<path d="M1237.1 1412.6L1256.1 1393.6L1275.1 1412.6L1256.1 1431.6Z" fill="#FF8C00" fill-opacity="0.5" stroke="#000" stroke-width="2.9" stroke-linejoin="miter"/>
<path d="M1248.3 1391.3L1267.3 1372.3L1286.3 1391.3L1267.3 1410.3Z" fill="#FF8C00" fill-opacity="0.5" stroke="#000" stroke-width="2.9" stroke-linejoin="miter"/>
<path d="M1268.5 1341.7L1287.5 1322.7L1306.5 1341.7L1287.5 1360.7Z" fill="#FF8C00" fill-opacity="0.5" stroke="#000" stroke-width="2.9" stroke-linejoin="miter"/>
<path d="M1291.0 1260.9L1310.0 1241.9L1329.0 1260.9L1310.0 1279.9Z" fill="#FF8C00" fill-opacity="0.5" stroke="#000" stroke-width="2.9" stroke-linejoin="miter"/>
<path d="M1311.4 1184.0L1330.4 1165.0L1349.4 1184.0L1330.4 1203.0Z" fill="#FF8C00" fill-opacity="0.5" stroke="#000" stroke-width="2.9" stroke-linejoin="miter"/>
<path d="M1331.6 1119.8L1350.6 1100.8L1369.6 1119.8L1350.6 1138.8Z" fill="#FF8C00" fill-opacity="0.5" stroke="#000" stroke-width="2.9" stroke-linejoin="miter"/>
<path d="M1467.4 1051.9L1486.4 1032.9L1505.4 1051.9L1486.4 1070.9Z" fill="#FF8C00" fill-opacity="0.5" stroke="#000" stroke-width="2.9" stroke-linejoin="miter"/>
</g>
<g stroke="#000" stroke-width="3.3"><line x1="1199.2" y1="1038.3" x2="1199.2" y2="1463.25"/><line x1="1197.55" y1="1461.6" x2="1561.5" y2="1461.6"/></g>
<g font-family="'DejaVu Sans', Verdana, sans-serif" font-size="47.6" fill="#000" stroke="#000" stroke-width="0.8"><text x="1199.2" y="1510.6" text-anchor="middle">0</text><text x="1312.1" y="1510.6" text-anchor="middle">10</text><text x="1425" y="1510.6" text-anchor="middle">20</text><text x="1537.9" y="1510.6" text-anchor="middle">30</text><text x="1186.8" y="1468.7" text-anchor="end">0.00</text><text x="1186.8" y="1369.3" text-anchor="end">0.25</text><text x="1186.8" y="1269.9" text-anchor="end">0.50</text><text x="1186.8" y="1170.5" text-anchor="end">0.75</text><text x="1186.8" y="1071.1" text-anchor="end">1.00</text></g>
<text x="1384.9" y="988.3" text-anchor="middle" font-family="'Liberation Sans', Arial, Helvetica, sans-serif" font-size="42.8" fill="#000" stroke="#000" stroke-width="0.7">Participant 3</text>
<g stroke="#000" stroke-opacity="0.1" stroke-width="1.6"><line x1="325.2" y1="1633.1" x2="325.2" y2="2056.1"/><line x1="438" y1="1633.1" x2="438" y2="2056.1"/><line x1="550.8" y1="1633.1" x2="550.8" y2="2056.1"/><line x1="212.4" y1="2044.3" x2="575.6" y2="2044.3"/><line x1="212.4" y1="1944.88" x2="575.6" y2="1944.88"/><line x1="212.4" y1="1845.45" x2="575.6" y2="1845.45"/><line x1="212.4" y1="1746.02" x2="575.6" y2="1746.02"/><line x1="212.4" y1="1646.6" x2="575.6" y2="1646.6"/></g>
<g stroke="#000" stroke-width="2.6"><line x1="212.4" y1="2056.1" x2="212.4" y2="2044.1"/><line x1="325.2" y1="2056.1" x2="325.2" y2="2044.1"/><line x1="438" y1="2056.1" x2="438" y2="2044.1"/><line x1="550.8" y1="2056.1" x2="550.8" y2="2044.1"/><line x1="212.4" y1="2044.3" x2="224.4" y2="2044.3"/><line x1="212.4" y1="1944.88" x2="224.4" y2="1944.88"/><line x1="212.4" y1="1845.45" x2="224.4" y2="1845.45"/><line x1="212.4" y1="1746.02" x2="224.4" y2="1746.02"/><line x1="212.4" y1="1646.6" x2="224.4" y2="1646.6"/></g>
<clipPath id="cb3"><rect x="212.4" y="1633.1" width="363.2" height="423"/></clipPath>
<g clip-path="url(#cb3)">
<path d="M212.6 2040.0 L213.6 2039.8 L214.6 2039.6 L215.6 2039.3 L216.6 2038.9 L217.6 2038.5 L218.6 2038.1 L219.6 2037.6 L220.6 2037.1 L221.6 2036.6 L222.6 2036.0 L223.6 2035.4 L224.6 2034.8 L225.6 2034.1 L226.6 2033.5 L227.6 2032.8 L228.6 2032.1 L229.6 2031.4 L230.6 2030.6 L231.6 2029.7 L232.6 2028.8 L233.6 2027.8 L234.6 2026.7 L235.6 2025.5 L236.6 2024.3 L237.6 2023.1 L238.6 2021.8 L239.6 2020.5 L240.6 2019.2 L241.6 2017.9 L242.6 2016.5 L243.6 2015.2 L244.6 2013.9 L245.6 2012.6 L246.6 2011.2 L247.6 2009.9 L248.6 2008.5 L249.6 2007.1 L250.6 2005.7 L251.6 2004.3 L252.6 2002.8 L253.6 2001.3 L254.6 1999.7 L255.6 1998.1 L256.6 1996.4 L257.6 1994.7 L258.6 1993.0 L259.6 1991.1 L260.6 1989.2 L261.6 1987.2 L262.6 1985.0 L263.6 1982.8 L264.6 1980.4 L265.6 1978.0 L266.6 1975.5 L267.6 1973.0 L268.6 1970.3 L269.6 1967.4 L270.6 1964.5 L271.6 1961.4 L272.6 1958.3 L273.6 1955.1 L274.6 1952.0 L275.6 1949.0 L276.6 1946.1 L277.6 1943.1 L278.6 1940.2 L279.6 1937.2 L280.6 1934.2 L281.6 1931.2 L282.6 1928.0 L283.6 1924.8 L284.6 1921.5 L285.6 1918.2 L286.6 1914.9 L287.6 1911.4 L288.6 1907.9 L289.6 1904.3 L290.6 1900.5 L291.6 1896.5 L292.6 1892.3 L293.6 1888.0 L294.6 1883.8 L295.6 1879.6 L296.6 1875.5 L297.6 1871.5 L298.6 1867.5 L299.6 1863.5 L300.6 1859.5 L301.6 1855.5 L302.6 1851.5 L303.6 1847.5 L304.6 1843.5 L305.6 1839.5 L306.6 1835.5 L307.6 1831.5 L308.6 1827.5 L309.6 1823.5 L310.6 1819.5 L311.6 1815.5 L312.6 1811.5 L313.6 1807.5 L314.6 1803.5 L315.6 1799.5 L316.6 1795.4 L317.6 1791.4 L318.6 1787.5 L319.6 1783.6 L320.6 1779.7 L321.6 1775.9 L322.6 1772.2 L323.6 1768.4 L324.6 1764.7 L325.6 1761.0 L326.6 1757.3 L327.6 1753.6 L328.6 1749.8 L329.6 1746.1 L330.6 1742.4 L331.6 1738.8 L332.6 1735.4 L333.6 1732.0 L334.6 1728.7 L335.6 1725.4 L336.6 1722.3 L337.6 1719.3 L338.6 1716.7 L339.6 1714.2 L340.6 1711.9 L341.6 1709.6 L342.6 1707.5 L343.6 1705.5 L344.6 1703.5 L345.6 1701.6 L346.6 1699.8 L347.6 1698.1 L348.6 1696.4 L349.6 1694.8 L350.6 1693.2 L351.6 1691.7 L352.6 1690.2 L353.6 1688.8 L354.6 1687.4 L355.6 1686.0 L356.6 1684.7 L357.6 1683.4 L358.6 1682.1 L359.6 1680.8 L360.6 1679.6 L361.6 1678.3 L362.6 1677.1 L363.6 1675.9 L364.6 1674.8 L365.6 1673.6 L366.6 1672.5 L367.6 1671.4 L368.6 1670.3 L369.6 1669.3 L370.6 1668.2 L371.6 1667.2 L372.6 1666.2 L373.6 1665.2 L374.6 1664.1 L375.6 1663.1 L376.6 1662.0 L377.6 1661.0 L378.6 1660.0 L379.6 1659.1 L380.6 1658.2 L381.6 1657.3 L382.6 1656.6 L383.6 1655.9 L384.6 1655.3 L385.6 1654.8 L386.6 1654.4 L387.6 1654.1 L388.6 1653.8 L389.6 1653.5 L390.6 1653.2 L391.6 1653.0 L392.6 1652.7 L393.6 1652.5 L394.6 1652.3 L395.6 1652.1 L396.6 1651.9 L397.6 1651.7 L398.6 1651.6 L399.6 1651.4 L400.6 1651.2 L401.6 1651.0 L402.6 1650.8 L403.6 1650.6 L404.6 1650.5 L405.6 1650.3 L406.6 1650.1 L407.6 1650.0 L408.6 1649.8 L409.6 1649.6 L410.6 1649.5 L411.6 1649.3 L412.6 1649.2 L413.6 1649.1 L414.6 1648.9 L415.6 1648.8 L416.6 1648.7 L417.6 1648.6 L418.6 1648.5 L419.6 1648.4 L420.6 1648.3 L421.6 1648.2 L422.6 1648.1 L423.6 1648.0 L424.6 1647.9 L425.6 1647.8 L426.6 1647.7 L427.6 1647.6 L428.6 1647.5 L429.6 1647.5 L430.6 1647.4 L431.6 1647.3 L432.6 1647.2 L433.6 1647.2 L434.6 1647.1 L435.6 1647.0 L436.6 1647.0 L437.6 1646.9 L438.6 1646.8 L439.6 1646.8 L440.6 1646.7 L441.6 1646.7 L442.6 1646.7 L443.6 1646.6 L444.0 1646.6" fill="none" stroke="#009AFA" stroke-width="13.2" stroke-dasharray="53.5 19.8" stroke-dashoffset="0"/>
<path d="M212.6 2040.0 L213.6 2039.8 L214.6 2039.6 L215.6 2039.3 L216.6 2038.9 L217.6 2038.5 L218.6 2038.1 L219.6 2037.6 L220.6 2037.1 L221.6 2036.6 L222.6 2036.0 L223.6 2035.4 L224.6 2034.8 L225.6 2034.1 L226.6 2033.5 L227.6 2032.8 L228.6 2032.1 L229.6 2031.4 L230.6 2030.6 L231.6 2029.7 L232.6 2028.8 L233.6 2027.8 L234.6 2026.7 L235.6 2025.5 L236.6 2024.3 L237.6 2023.1 L238.6 2021.8 L239.6 2020.5 L240.6 2019.2 L241.6 2017.9 L242.6 2016.5 L243.6 2015.2 L244.6 2013.9 L245.6 2012.6 L246.6 2011.2 L247.6 2009.9 L248.6 2008.5 L249.6 2007.1 L250.6 2005.7 L251.6 2004.3 L252.6 2002.8 L253.6 2001.3 L254.6 1999.7 L255.6 1998.1 L256.6 1996.4 L257.6 1994.7 L258.6 1993.0 L259.6 1991.1 L260.6 1989.2 L261.6 1987.2 L262.6 1985.0 L263.6 1982.8 L264.6 1980.4 L265.6 1978.0 L266.6 1975.5 L267.6 1973.0 L268.6 1970.3 L269.6 1967.4 L270.6 1964.5 L271.6 1961.4 L272.6 1958.3 L273.6 1955.1 L274.6 1952.0 L275.6 1949.0 L276.6 1946.1 L277.6 1943.1 L278.6 1940.2 L279.6 1937.2 L280.6 1934.2 L281.6 1931.2 L282.6 1928.0 L283.6 1924.8 L284.6 1921.5 L285.6 1918.2 L286.6 1914.9 L287.6 1911.4 L288.6 1907.9 L289.6 1904.3 L290.6 1900.5 L291.6 1896.5 L292.6 1892.3 L293.6 1888.0 L294.6 1883.8 L295.6 1879.6 L296.6 1875.5 L297.6 1871.5 L298.6 1867.5 L299.6 1863.5 L300.6 1859.5 L301.6 1855.5 L302.6 1851.5 L303.5 1847.5 L304.5 1843.5 L305.4 1839.5 L306.4 1835.5 L307.3 1831.5 L308.3 1827.5 L309.2 1823.4 L310.1 1819.4 L311.1 1815.4 L312.0 1811.4 L313.0 1807.4 L313.9 1803.3 L314.9 1799.3 L315.8 1795.2 L316.7 1791.2 L317.7 1787.2 L318.6 1783.3 L319.6 1779.5 L320.6 1775.7 L321.6 1771.9 L322.6 1768.2 L323.5 1764.4 L324.5 1760.7 L325.5 1757.0 L326.5 1753.3 L327.5 1749.5 L328.5 1745.8 L329.4 1742.1 L330.4 1738.5 L331.4 1735.1 L332.4 1731.7 L333.4 1728.3 L334.4 1725.0 L335.4 1721.8 L336.4 1718.9 L337.4 1716.2 L338.3 1713.7 L339.3 1711.3 L340.3 1709.0 L341.3 1706.9 L342.3 1704.8 L343.3 1702.8 L344.3 1700.9 L345.3 1699.1 L346.3 1697.3 L347.3 1695.6 L348.3 1693.9 L349.2 1692.3 L350.2 1690.8 L351.2 1689.2 L352.2 1687.8 L353.2 1686.3 L354.1 1684.9 L355.1 1683.6 L356.1 1682.2 L357.1 1680.9 L358.0 1679.6 L359.0 1678.3 L360.0 1677.0 L361.0 1675.8 L362.0 1674.5 L362.9 1673.3 L363.9 1672.2 L364.9 1671.0 L366.0 1669.9 L367.0 1668.8 L368.0 1667.7 L369.0 1666.6 L370.0 1665.6 L370.9 1664.6 L371.9 1663.6 L372.9 1662.5 L373.9 1661.5 L374.9 1660.4 L375.9 1659.3 L376.9 1658.3 L378.0 1657.3 L379.0 1656.3 L380.1 1655.4 L381.2 1654.6 L382.3 1653.8 L383.4 1653.1 L384.6 1652.5 L385.8 1652.1 L386.8 1651.7 L387.9 1651.4 L388.9 1651.1 L390.0 1650.8 L391.0 1650.5 L392.0 1650.3 L393.1 1650.1 L394.1 1649.9 L395.1 1649.7 L396.1 1649.5 L397.1 1649.3 L398.2 1649.1 L399.2 1648.9 L400.1 1648.7 L401.1 1648.5 L402.2 1648.4 L403.2 1648.2 L404.2 1648.0 L405.2 1647.8 L406.2 1647.7 L407.2 1647.5 L408.2 1647.3 L409.2 1647.2 L410.2 1647.0 L411.2 1646.9 L412.3 1646.7 L413.3 1646.6 L414.3 1646.5 L415.3 1646.3 L416.3 1646.3 L417.4 1646.3 L418.4 1646.3 L419.4 1646.3 L420.4 1646.2 L421.4 1646.2 L422.4 1646.2 L423.4 1646.2 L424.4 1646.2 L425.5 1646.2 L426.5 1646.2 L427.5 1646.2 L428.5 1646.2 L429.5 1646.2 L430.5 1646.2 L431.5 1646.2 L432.5 1646.2 L433.5 1646.3 L434.5 1646.3 L435.6 1646.3 L436.6 1646.3 L437.6 1646.4 L438.6 1646.4 L439.6 1646.4 L440.6 1646.5 L441.6 1646.5 L442.6 1646.6 L443.6 1646.6 L444.0 1646.6" fill="none" stroke="#008000" stroke-opacity="0.5" stroke-width="19.8" stroke-dasharray="76.5 32" stroke-dashoffset="0"/>
<path d="M187.9 2049.8L206.9 2030.8L225.9 2049.8L206.9 2068.8Z" fill="#008000" fill-opacity="0.5" stroke="#000" stroke-width="2.9" stroke-linejoin="miter"/>
<path d="M193.6 2044.6L212.6 2025.6L231.6 2044.6L212.6 2063.6Z" fill="#008000" fill-opacity="0.5" stroke="#000" stroke-width="2.9" stroke-linejoin="miter"/>
<path d="M199.6 2040.5L218.6 2021.5L237.6 2040.5L218.6 2059.5Z" fill="#008000" fill-opacity="0.5" stroke="#000" stroke-width="2.9" stroke-linejoin="miter"/>
<path d="M210.1 2031.7L229.1 2012.7L248.1 2031.7L229.1 2050.7Z" fill="#008000" fill-opacity="0.5" stroke="#000" stroke-width="2.9" stroke-linejoin="miter"/>
<path d="M240.7 1991.0L259.7 1972.0L278.7 1991.0L259.7 2010.0Z" fill="#008000" fill-opacity="0.5" stroke="#000" stroke-width="2.9" stroke-linejoin="miter"/>
<path d="M271.3 1901.6L290.3 1882.6L309.3 1901.6L290.3 1920.6Z" fill="#008000" fill-opacity="0.5" stroke="#000" stroke-width="2.9" stroke-linejoin="miter"/>
<path d="M300.5 1784.1L319.5 1765.1L338.5 1784.1L319.5 1803.1Z" fill="#008000" fill-opacity="0.5" stroke="#000" stroke-width="2.9" stroke-linejoin="miter"/>
<path d="M328.7 1697.9L347.7 1678.9L366.7 1697.9L347.7 1716.9Z" fill="#008000" fill-opacity="0.5" stroke="#000" stroke-width="2.9" stroke-linejoin="miter"/>
<path d="M367.0 1653.7L386.0 1634.7L405.0 1653.7L386.0 1672.7Z" fill="#008000" fill-opacity="0.5" stroke="#000" stroke-width="2.9" stroke-linejoin="miter"/>
<path d="M425.0 1646.6L444.0 1627.6L463.0 1646.6L444.0 1665.6Z" fill="#008000" fill-opacity="0.5" stroke="#000" stroke-width="2.9" stroke-linejoin="miter"/>
</g>
<g stroke="#000" stroke-width="3.3"><line x1="212.4" y1="1633.1" x2="212.4" y2="2057.75"/><line x1="210.75" y1="2056.1" x2="575.6" y2="2056.1"/></g>
<g font-family="'DejaVu Sans', Verdana, sans-serif" font-size="47.6" fill="#000" stroke="#000" stroke-width="0.8"><text x="212.4" y="2105.1" text-anchor="middle">0</text><text x="325.2" y="2105.1" text-anchor="middle">10</text><text x="438" y="2105.1" text-anchor="middle">20</text><text x="550.8" y="2105.1" text-anchor="middle">30</text><text x="200" y="2063" text-anchor="end">0.00</text><text x="200" y="1963.58" text-anchor="end">0.25</text><text x="200" y="1864.15" text-anchor="end">0.50</text><text x="200" y="1764.72" text-anchor="end">0.75</text><text x="200" y="1665.3" text-anchor="end">1.00</text></g>
<text x="403.6" y="1593.8" text-anchor="middle" font-family="'Liberation Sans', Arial, Helvetica, sans-serif" font-size="42.8" fill="#000" stroke="#000" stroke-width="0.7">Participant 4</text>
<g stroke="#000" stroke-opacity="0.1" stroke-width="1.6"><line x1="820" y1="1633.1" x2="820" y2="2056.1"/><line x1="932.9" y1="1633.1" x2="932.9" y2="2056.1"/><line x1="1045.8" y1="1633.1" x2="1045.8" y2="2056.1"/><line x1="707.1" y1="2044.3" x2="1069.6" y2="2044.3"/><line x1="707.1" y1="1944.88" x2="1069.6" y2="1944.88"/><line x1="707.1" y1="1845.45" x2="1069.6" y2="1845.45"/><line x1="707.1" y1="1746.02" x2="1069.6" y2="1746.02"/><line x1="707.1" y1="1646.6" x2="1069.6" y2="1646.6"/></g>
<g stroke="#000" stroke-width="2.6"><line x1="707.1" y1="2056.1" x2="707.1" y2="2044.1"/><line x1="820" y1="2056.1" x2="820" y2="2044.1"/><line x1="932.9" y1="2056.1" x2="932.9" y2="2044.1"/><line x1="1045.8" y1="2056.1" x2="1045.8" y2="2044.1"/><line x1="707.1" y1="2044.3" x2="719.1" y2="2044.3"/><line x1="707.1" y1="1944.88" x2="719.1" y2="1944.88"/><line x1="707.1" y1="1845.45" x2="719.1" y2="1845.45"/><line x1="707.1" y1="1746.02" x2="719.1" y2="1746.02"/><line x1="707.1" y1="1646.6" x2="719.1" y2="1646.6"/></g>
<clipPath id="cb4"><rect x="707.1" y="1633.1" width="362.5" height="423"/></clipPath>
<g clip-path="url(#cb4)">
<path d="M707.3 2036.6 L708.3 2036.5 L709.3 2036.3 L710.3 2036.1 L711.3 2035.9 L712.3 2035.7 L713.3 2035.4 L714.3 2035.1 L715.3 2034.8 L716.3 2034.5 L717.3 2034.2 L718.3 2033.9 L719.3 2033.5 L720.3 2033.2 L721.3 2032.8 L722.3 2032.4 L723.3 2032.0 L724.3 2031.6 L725.3 2031.2 L726.3 2030.7 L727.3 2030.2 L728.3 2029.7 L729.3 2029.1 L730.3 2028.6 L731.3 2027.9 L732.3 2027.3 L733.3 2026.6 L734.3 2025.9 L735.3 2025.2 L736.3 2024.4 L737.3 2023.5 L738.3 2022.6 L739.3 2021.5 L740.3 2020.5 L741.3 2019.3 L742.3 2018.1 L743.3 2016.9 L744.3 2015.5 L745.3 2013.9 L746.3 2012.3 L747.3 2010.5 L748.3 2008.7 L749.3 2006.9 L750.3 2005.0 L751.3 2003.2 L752.3 2001.2 L753.3 1999.3 L754.3 1997.3 L755.3 1995.3 L756.3 1993.2 L757.3 1991.1 L758.3 1988.9 L759.3 1986.7 L760.3 1984.4 L761.3 1982.0 L762.3 1979.5 L763.3 1977.0 L764.3 1974.4 L765.3 1971.8 L766.3 1969.1 L767.3 1966.2 L768.3 1963.3 L769.3 1960.3 L770.3 1957.2 L771.3 1954.0 L772.3 1950.8 L773.3 1947.6 L774.3 1944.3 L775.3 1941.0 L776.3 1937.7 L777.3 1934.3 L778.3 1930.9 L779.3 1927.4 L780.3 1923.8 L781.3 1920.0 L782.3 1916.1 L783.3 1912.1 L784.3 1908.2 L785.3 1904.5 L786.3 1901.1 L787.3 1898.0 L788.3 1894.5 L789.3 1890.7 L790.3 1886.6 L791.3 1882.5 L792.3 1878.3 L793.3 1874.1 L794.3 1869.8 L795.3 1865.4 L796.3 1861.0 L797.3 1856.6 L798.3 1852.4 L799.3 1848.3 L800.3 1844.2 L801.3 1840.3 L802.3 1836.4 L803.3 1832.6 L804.3 1828.9 L805.3 1825.3 L806.3 1821.8 L807.3 1818.3 L808.3 1814.8 L809.3 1811.3 L810.3 1807.7 L811.3 1804.0 L812.3 1800.1 L813.3 1796.2 L814.3 1792.1 L815.3 1788.0 L816.3 1784.0 L817.3 1780.0 L818.3 1775.9 L819.3 1771.8 L820.3 1767.8 L821.3 1763.8 L822.3 1760.0 L823.3 1756.2 L824.3 1752.5 L825.3 1748.9 L826.3 1745.3 L827.3 1741.9 L828.3 1738.5 L829.3 1735.3 L830.3 1732.2 L831.3 1729.2 L832.3 1726.3 L833.3 1723.4 L834.3 1720.4 L835.3 1717.4 L836.3 1714.3 L837.3 1711.1 L838.3 1708.0 L839.3 1705.0 L840.3 1702.4 L841.3 1700.0 L842.3 1697.9 L843.3 1695.8 L844.3 1693.9 L845.3 1692.1 L846.3 1690.2 L847.3 1688.4 L848.3 1686.6 L849.3 1684.8 L850.3 1682.9 L851.3 1681.0 L852.3 1679.2 L853.3 1677.5 L854.3 1675.8 L855.3 1674.3 L856.3 1672.8 L857.3 1671.3 L858.3 1669.8 L859.3 1668.4 L860.3 1667.0 L861.3 1665.8 L862.3 1664.6 L863.3 1663.6 L864.3 1662.7 L865.3 1661.9 L866.3 1661.1 L867.3 1660.4 L868.3 1659.6 L869.3 1659.0 L870.3 1658.3 L871.3 1657.7 L872.3 1657.1 L873.3 1656.5 L874.3 1656.0 L875.3 1655.5 L876.3 1655.0 L877.3 1654.6 L878.3 1654.2 L879.3 1653.9 L880.3 1653.5 L881.3 1653.2 L882.3 1652.9 L883.3 1652.6 L884.3 1652.3 L885.3 1652.1 L886.3 1651.8 L887.3 1651.6 L888.3 1651.3 L889.3 1651.1 L890.3 1650.9 L891.3 1650.7 L892.3 1650.5 L893.3 1650.3 L894.3 1650.1 L895.3 1649.9 L896.3 1649.7 L897.3 1649.6 L898.3 1649.4 L899.3 1649.2 L900.3 1649.1 L901.3 1648.9 L902.3 1648.8 L903.3 1648.6 L904.3 1648.4 L905.3 1648.3 L906.3 1648.1 L907.3 1648.0 L908.3 1647.9 L909.3 1647.7 L910.3 1647.6 L911.3 1647.5 L912.3 1647.4 L913.3 1647.4 L914.3 1647.3 L915.3 1647.3 L916.3 1647.2 L917.3 1647.2 L918.3 1647.1 L919.3 1647.1 L920.3 1647.0 L921.3 1647.0 L922.3 1647.0 L923.3 1646.9 L924.3 1646.9 L925.3 1646.8 L926.3 1646.8 L927.3 1646.8 L928.3 1646.7 L929.3 1646.7 L930.3 1646.7 L931.3 1646.7 L932.3 1646.7 L933.3 1646.7 L934.3 1646.6 L935.3 1646.6 L936.3 1646.6 L937.1 1646.6" fill="none" stroke="#009AFA" stroke-width="13.2" stroke-dasharray="53.5 19.8" stroke-dashoffset="0"/>
<path d="M707.3 2036.6 L708.3 2036.5 L709.3 2036.3 L710.3 2036.1 L711.3 2035.9 L712.3 2035.7 L713.3 2035.4 L714.3 2035.1 L715.3 2034.8 L716.3 2034.5 L717.3 2034.2 L718.3 2033.9 L719.3 2033.5 L720.3 2033.2 L721.3 2032.8 L722.3 2032.4 L723.3 2032.0 L724.3 2031.6 L725.3 2031.2 L726.3 2030.7 L727.3 2030.2 L728.3 2029.7 L729.3 2029.1 L730.3 2028.6 L731.3 2027.9 L732.3 2027.3 L733.3 2026.6 L734.3 2025.9 L735.3 2025.2 L736.3 2024.4 L737.3 2023.5 L738.3 2022.6 L739.3 2021.5 L740.3 2020.5 L741.3 2019.3 L742.3 2018.1 L743.3 2016.9 L744.3 2015.5 L745.3 2013.9 L746.3 2012.3 L747.3 2010.5 L748.3 2008.7 L749.3 2006.9 L750.3 2005.0 L751.3 2003.2 L752.3 2001.2 L753.3 1999.3 L754.3 1997.3 L755.3 1995.3 L756.3 1993.2 L757.3 1991.1 L758.3 1988.9 L759.3 1986.7 L760.3 1984.4 L761.3 1982.0 L762.3 1979.5 L763.3 1977.0 L764.3 1974.4 L765.3 1971.8 L766.3 1969.1 L767.3 1966.2 L768.3 1963.3 L769.3 1960.3 L770.3 1957.2 L771.3 1954.0 L772.3 1950.8 L773.3 1947.6 L774.3 1944.3 L775.3 1941.0 L776.3 1937.7 L777.3 1934.3 L778.3 1930.9 L779.3 1927.4 L780.3 1923.8 L781.3 1920.0 L782.3 1916.1 L783.3 1912.1 L784.3 1908.2 L785.3 1904.5 L786.3 1901.1 L787.3 1898.0 L788.3 1894.5 L789.3 1890.7 L790.3 1886.6 L791.3 1882.5 L792.3 1878.3 L793.3 1874.1 L794.3 1869.8 L795.3 1865.4 L796.3 1861.0 L797.3 1856.6 L798.3 1852.3 L799.2 1848.2 L800.2 1844.2 L801.1 1840.3 L802.1 1836.4 L803.0 1832.6 L804.0 1828.8 L805.0 1825.2 L805.9 1821.7 L806.9 1818.2 L807.8 1814.7 L808.8 1811.2 L809.7 1807.6 L810.7 1803.8 L811.7 1800.0 L812.6 1796.0 L813.6 1791.9 L814.5 1787.8 L815.5 1783.8 L816.4 1779.8 L817.4 1775.7 L818.4 1771.6 L819.3 1767.6 L820.3 1763.6 L821.3 1759.7 L822.3 1756.0 L823.3 1752.3 L824.3 1748.6 L825.2 1745.0 L826.2 1741.6 L827.2 1738.2 L828.2 1735.0 L829.2 1731.8 L830.2 1728.8 L831.2 1725.9 L832.2 1723.0 L833.2 1720.0 L834.1 1717.1 L835.1 1713.9 L836.1 1710.7 L837.1 1707.6 L838.1 1704.6 L839.1 1701.9 L840.1 1699.5 L841.1 1697.3 L842.1 1695.2 L843.1 1693.3 L844.1 1691.4 L845.1 1689.6 L846.1 1687.8 L847.1 1686.0 L848.0 1684.1 L849.0 1682.2 L850.0 1680.3 L851.0 1678.5 L852.0 1676.7 L853.0 1675.0 L854.0 1673.5 L855.1 1671.9 L856.1 1670.4 L857.1 1668.9 L858.1 1667.5 L859.1 1666.1 L860.1 1664.8 L861.2 1663.6 L862.3 1662.5 L863.3 1661.6 L864.4 1660.7 L865.4 1659.9 L866.4 1659.2 L867.4 1658.4 L868.5 1657.7 L869.5 1657.0 L870.5 1656.4 L871.6 1655.8 L872.6 1655.2 L873.6 1654.7 L874.7 1654.1 L875.7 1653.7 L876.7 1653.2 L877.8 1652.8 L878.8 1652.4 L879.8 1652.1 L880.9 1651.8 L881.9 1651.5 L882.9 1651.2 L883.9 1650.9 L884.9 1650.6 L885.9 1650.4 L887.0 1650.1 L888.0 1649.9 L889.0 1649.6 L890.0 1649.4 L891.0 1649.2 L892.0 1649.0 L893.0 1648.8 L894.0 1648.6 L895.0 1648.4 L896.0 1648.3 L897.0 1648.1 L898.1 1647.9 L899.1 1647.8 L900.1 1647.6 L901.1 1647.5 L902.1 1647.4 L903.1 1647.3 L904.1 1647.2 L905.1 1647.0 L906.1 1646.9 L907.1 1646.8 L908.2 1646.7 L909.2 1646.6 L910.2 1646.6 L911.2 1646.5 L912.2 1646.5 L913.2 1646.4 L914.3 1646.4 L915.3 1646.4 L916.3 1646.4 L917.3 1646.4 L918.3 1646.4 L919.3 1646.4 L920.3 1646.4 L921.3 1646.4 L922.3 1646.4 L923.3 1646.4 L924.3 1646.4 L925.3 1646.4 L926.3 1646.4 L927.3 1646.4 L928.3 1646.4 L929.3 1646.4 L930.3 1646.4 L931.3 1646.4 L932.3 1646.5 L933.3 1646.5 L934.3 1646.5 L935.3 1646.5 L936.3 1646.6 L937.1 1646.6" fill="none" stroke="#EE82EE" stroke-opacity="0.5" stroke-width="19.8" stroke-dasharray="76.5 32" stroke-dashoffset="0"/>
<path d="M692.9 2042.3L711.9 2023.3L730.9 2042.3L711.9 2061.3Z" fill="#EE82EE" fill-opacity="0.5" stroke="#000" stroke-width="2.9" stroke-linejoin="miter"/>
<path d="M755.3 1944.4L774.3 1925.4L793.3 1944.4L774.3 1963.4Z" fill="#EE82EE" fill-opacity="0.5" stroke="#000" stroke-width="2.9" stroke-linejoin="miter"/>
<path d="M784.6 1831.6L803.6 1812.6L822.6 1831.6L803.6 1850.6Z" fill="#EE82EE" fill-opacity="0.5" stroke="#000" stroke-width="2.9" stroke-linejoin="miter"/>
<path d="M809.6 1737.6L828.6 1718.6L847.6 1737.6L828.6 1756.6Z" fill="#EE82EE" fill-opacity="0.5" stroke="#000" stroke-width="2.9" stroke-linejoin="miter"/>
<path d="M829.6 1686.0L848.6 1667.0L867.6 1686.0L848.6 1705.0Z" fill="#EE82EE" fill-opacity="0.5" stroke="#000" stroke-width="2.9" stroke-linejoin="miter"/>
<path d="M845.1 1662.9L864.1 1643.9L883.1 1662.9L864.1 1681.9Z" fill="#EE82EE" fill-opacity="0.5" stroke="#000" stroke-width="2.9" stroke-linejoin="miter"/>
<path d="M860.6 1653.7L879.6 1634.7L898.6 1653.7L879.6 1672.7Z" fill="#EE82EE" fill-opacity="0.5" stroke="#000" stroke-width="2.9" stroke-linejoin="miter"/>
<path d="M880.7 1649.2L899.7 1630.2L918.7 1649.2L899.7 1668.2Z" fill="#EE82EE" fill-opacity="0.5" stroke="#000" stroke-width="2.9" stroke-linejoin="miter"/>
<path d="M894.7 1647.7L913.7 1628.7L932.7 1647.7L913.7 1666.7Z" fill="#EE82EE" fill-opacity="0.5" stroke="#000" stroke-width="2.9" stroke-linejoin="miter"/>
<path d="M918.1 1646.6L937.1 1627.6L956.1 1646.6L937.1 1665.6Z" fill="#EE82EE" fill-opacity="0.5" stroke="#000" stroke-width="2.9" stroke-linejoin="miter"/>
</g>
<g stroke="#000" stroke-width="3.3"><line x1="707.1" y1="1633.1" x2="707.1" y2="2057.75"/><line x1="705.45" y1="2056.1" x2="1069.6" y2="2056.1"/></g>
<g font-family="'DejaVu Sans', Verdana, sans-serif" font-size="47.6" fill="#000" stroke="#000" stroke-width="0.8"><text x="707.1" y="2105.1" text-anchor="middle">0</text><text x="820" y="2105.1" text-anchor="middle">10</text><text x="932.9" y="2105.1" text-anchor="middle">20</text><text x="1045.8" y="2105.1" text-anchor="middle">30</text><text x="694.7" y="2063" text-anchor="end">0.00</text><text x="694.7" y="1963.58" text-anchor="end">0.25</text><text x="694.7" y="1864.15" text-anchor="end">0.50</text><text x="694.7" y="1764.72" text-anchor="end">0.75</text><text x="694.7" y="1665.3" text-anchor="end">1.00</text></g>
<text x="890" y="1593.8" text-anchor="middle" font-family="'Liberation Sans', Arial, Helvetica, sans-serif" font-size="42.8" fill="#000" stroke="#000" stroke-width="0.7">Participant 5</text>
<g stroke="#000" stroke-opacity="0.1" stroke-width="1.6"><line x1="1314.9" y1="1633.1" x2="1314.9" y2="2056.1"/><line x1="1427.8" y1="1633.1" x2="1427.8" y2="2056.1"/><line x1="1540.7" y1="1633.1" x2="1540.7" y2="2056.1"/><line x1="1202" y1="2044.3" x2="1564.3" y2="2044.3"/><line x1="1202" y1="1944.88" x2="1564.3" y2="1944.88"/><line x1="1202" y1="1845.45" x2="1564.3" y2="1845.45"/><line x1="1202" y1="1746.02" x2="1564.3" y2="1746.02"/><line x1="1202" y1="1646.6" x2="1564.3" y2="1646.6"/></g>
<g stroke="#000" stroke-width="2.6"><line x1="1202" y1="2056.1" x2="1202" y2="2044.1"/><line x1="1314.9" y1="2056.1" x2="1314.9" y2="2044.1"/><line x1="1427.8" y1="2056.1" x2="1427.8" y2="2044.1"/><line x1="1540.7" y1="2056.1" x2="1540.7" y2="2044.1"/><line x1="1202" y1="2044.3" x2="1214" y2="2044.3"/><line x1="1202" y1="1944.88" x2="1214" y2="1944.88"/><line x1="1202" y1="1845.45" x2="1214" y2="1845.45"/><line x1="1202" y1="1746.02" x2="1214" y2="1746.02"/><line x1="1202" y1="1646.6" x2="1214" y2="1646.6"/></g>
<clipPath id="cb5"><rect x="1202" y="1633.1" width="362.3" height="423"/></clipPath>
<g clip-path="url(#cb5)">
<path d="M1202.0 2039.5 L1203.0 2039.5 L1204.0 2039.5 L1205.0 2039.4 L1206.0 2039.3 L1207.0 2039.3 L1208.0 2039.1 L1209.0 2039.0 L1210.0 2038.9 L1211.0 2038.8 L1212.0 2038.6 L1213.0 2038.5 L1214.0 2038.3 L1215.0 2038.1 L1216.0 2037.9 L1217.0 2037.7 L1218.0 2037.5 L1219.0 2037.3 L1220.0 2037.1 L1221.0 2036.9 L1222.0 2036.7 L1223.0 2036.5 L1224.0 2036.2 L1225.0 2035.9 L1226.0 2035.6 L1227.0 2035.3 L1228.0 2034.9 L1229.0 2034.5 L1230.0 2034.1 L1231.0 2033.7 L1232.0 2033.3 L1233.0 2032.9 L1234.0 2032.4 L1235.0 2031.9 L1236.0 2031.4 L1237.0 2030.9 L1238.0 2030.4 L1239.0 2029.8 L1240.0 2029.2 L1241.0 2028.6 L1242.0 2027.9 L1243.0 2027.3 L1244.0 2026.6 L1245.0 2025.9 L1246.0 2025.1 L1247.0 2024.4 L1248.0 2023.6 L1249.0 2022.8 L1250.0 2022.0 L1251.0 2021.1 L1252.0 2020.1 L1253.0 2019.1 L1254.0 2018.1 L1255.0 2017.0 L1256.0 2015.9 L1257.0 2014.8 L1258.0 2013.7 L1259.0 2012.5 L1260.0 2011.2 L1261.0 2010.0 L1262.0 2008.7 L1263.0 2007.3 L1264.0 2005.9 L1265.0 2004.4 L1266.0 2002.9 L1267.0 2001.4 L1268.0 1999.8 L1269.0 1998.2 L1270.0 1996.5 L1271.0 1994.7 L1272.0 1992.9 L1273.0 1991.1 L1274.0 1989.1 L1275.0 1987.2 L1276.0 1985.1 L1277.0 1983.0 L1278.0 1980.9 L1279.0 1978.6 L1280.0 1976.3 L1281.0 1973.7 L1282.0 1971.0 L1283.0 1968.2 L1284.0 1965.4 L1285.0 1962.6 L1286.0 1960.0 L1287.0 1957.3 L1288.0 1954.8 L1289.0 1952.2 L1290.0 1949.7 L1291.0 1947.0 L1292.0 1944.3 L1293.0 1941.4 L1294.0 1938.5 L1295.0 1935.5 L1296.0 1932.4 L1297.0 1929.2 L1298.0 1926.0 L1299.0 1922.8 L1300.0 1919.4 L1301.0 1916.1 L1302.0 1912.6 L1303.0 1909.1 L1304.0 1905.6 L1305.0 1902.0 L1306.0 1898.3 L1307.0 1894.4 L1308.0 1890.5 L1309.0 1886.5 L1310.0 1882.5 L1311.0 1878.5 L1312.0 1874.5 L1313.0 1870.5 L1314.0 1866.5 L1315.0 1862.4 L1316.0 1858.3 L1317.0 1854.2 L1318.0 1850.1 L1319.0 1846.1 L1320.0 1842.0 L1321.0 1838.1 L1322.0 1834.1 L1323.0 1830.2 L1324.0 1826.3 L1325.0 1822.4 L1326.0 1818.4 L1327.0 1814.5 L1328.0 1810.5 L1329.0 1806.4 L1330.0 1802.4 L1331.0 1798.5 L1332.0 1794.6 L1333.0 1790.6 L1334.0 1786.8 L1335.0 1783.1 L1336.0 1779.7 L1337.0 1776.6 L1338.0 1773.6 L1339.0 1770.7 L1340.0 1767.8 L1341.0 1764.8 L1342.0 1761.7 L1343.0 1758.5 L1344.0 1755.3 L1345.0 1752.1 L1346.0 1748.8 L1347.0 1745.5 L1348.0 1742.1 L1349.0 1738.7 L1350.0 1735.2 L1351.0 1731.8 L1352.0 1728.6 L1353.0 1725.6 L1354.0 1722.8 L1355.0 1720.1 L1356.0 1717.4 L1357.0 1714.9 L1358.0 1712.4 L1359.0 1710.0 L1360.0 1707.7 L1361.0 1705.4 L1362.0 1703.2 L1363.0 1701.0 L1364.0 1698.9 L1365.0 1696.9 L1366.0 1694.9 L1367.0 1693.0 L1368.0 1691.1 L1369.0 1689.4 L1370.0 1687.7 L1371.0 1686.1 L1372.0 1684.5 L1373.0 1683.0 L1374.0 1681.5 L1375.0 1680.1 L1376.0 1678.7 L1377.0 1677.4 L1378.0 1676.1 L1379.0 1674.9 L1380.0 1673.7 L1381.0 1672.6 L1382.0 1671.6 L1383.0 1670.6 L1384.0 1669.6 L1385.0 1668.6 L1386.0 1667.7 L1387.0 1666.8 L1388.0 1666.0 L1389.0 1665.2 L1390.0 1664.4 L1391.0 1663.6 L1392.0 1662.9 L1393.0 1662.3 L1394.0 1661.6 L1395.0 1661.0 L1396.0 1660.5 L1397.0 1659.9 L1398.0 1659.4 L1399.0 1658.8 L1400.0 1658.3 L1401.0 1657.8 L1402.0 1657.3 L1403.0 1656.9 L1404.0 1656.4 L1405.0 1656.0 L1406.0 1655.5 L1407.0 1655.1 L1408.0 1654.7 L1409.0 1654.4 L1410.0 1654.0 L1411.0 1653.7 L1412.0 1653.4 L1413.0 1653.1 L1414.0 1652.8 L1415.0 1652.5 L1416.0 1652.3 L1417.0 1652.0 L1418.0 1651.8 L1419.0 1651.5 L1420.0 1651.3 L1421.0 1651.1 L1422.0 1650.8 L1423.0 1650.6 L1424.0 1650.4 L1425.0 1650.2 L1426.0 1650.0 L1427.0 1649.8 L1428.0 1649.7 L1429.0 1649.5 L1430.0 1649.3 L1431.0 1649.2 L1432.0 1649.1 L1433.0 1648.9 L1434.0 1648.8 L1435.0 1648.7 L1436.0 1648.6 L1437.0 1648.5 L1438.0 1648.4 L1439.0 1648.3 L1440.0 1648.2 L1441.0 1648.1 L1442.0 1648.0 L1443.0 1647.9 L1444.0 1647.8 L1445.0 1647.7 L1446.0 1647.7 L1447.0 1647.6 L1448.0 1647.5 L1449.0 1647.5 L1450.0 1647.4 L1451.0 1647.4 L1452.0 1647.3 L1453.0 1647.3 L1454.0 1647.2 L1455.0 1647.2 L1456.0 1647.2 L1457.0 1647.1 L1458.0 1647.1 L1459.0 1647.0 L1460.0 1647.0 L1461.0 1647.0 L1462.0 1646.9 L1463.0 1646.9 L1464.0 1646.9 L1465.0 1646.8 L1466.0 1646.8 L1467.0 1646.8 L1468.0 1646.8 L1469.0 1646.7 L1470.0 1646.7 L1471.0 1646.7 L1472.0 1646.7 L1473.0 1646.7 L1474.0 1646.6 L1475.0 1646.6 L1476.0 1646.6 L1477.0 1646.6 L1478.0 1646.6 L1479.0 1646.6 L1480.0 1646.6" fill="none" stroke="#009AFA" stroke-width="13.2" stroke-dasharray="53.5 19.8" stroke-dashoffset="0"/>
<path d="M1202.0 2039.5 L1203.0 2039.5 L1204.0 2039.5 L1205.0 2039.4 L1206.0 2039.3 L1207.0 2039.3 L1208.0 2039.1 L1209.0 2039.0 L1210.0 2038.9 L1211.0 2038.8 L1212.0 2038.6 L1213.0 2038.5 L1214.0 2038.3 L1215.0 2038.1 L1216.0 2037.9 L1217.0 2037.7 L1218.0 2037.5 L1219.0 2037.3 L1220.0 2037.1 L1221.0 2036.9 L1222.0 2036.7 L1223.0 2036.5 L1224.0 2036.2 L1225.0 2035.9 L1226.0 2035.6 L1227.0 2035.3 L1228.0 2034.9 L1229.0 2034.5 L1230.0 2034.1 L1231.0 2033.7 L1232.0 2033.3 L1233.0 2032.9 L1234.0 2032.4 L1235.0 2031.9 L1236.0 2031.4 L1237.0 2030.9 L1238.0 2030.4 L1239.0 2029.8 L1240.0 2029.2 L1241.0 2028.6 L1242.0 2027.9 L1243.0 2027.3 L1244.0 2026.6 L1245.0 2025.9 L1246.0 2025.1 L1247.0 2024.4 L1248.0 2023.6 L1249.0 2022.8 L1250.0 2022.0 L1251.0 2021.1 L1252.0 2020.1 L1253.0 2019.1 L1254.0 2018.1 L1255.0 2017.0 L1256.0 2015.9 L1257.0 2014.8 L1258.0 2013.7 L1259.0 2012.5 L1260.0 2011.2 L1261.0 2010.0 L1262.0 2008.7 L1263.0 2007.3 L1264.0 2005.9 L1265.0 2004.4 L1266.0 2002.9 L1267.0 2001.4 L1268.0 1999.8 L1269.0 1998.2 L1270.0 1996.5 L1271.0 1994.7 L1272.0 1992.9 L1273.0 1991.1 L1274.0 1989.1 L1275.0 1987.2 L1276.0 1985.1 L1277.0 1983.0 L1278.0 1980.9 L1279.0 1978.6 L1280.0 1976.3 L1281.0 1973.7 L1282.0 1971.0 L1283.0 1968.2 L1284.0 1965.4 L1285.0 1962.6 L1286.0 1960.0 L1287.0 1957.3 L1288.0 1954.8 L1289.0 1952.2 L1290.0 1949.7 L1291.0 1947.0 L1292.0 1944.3 L1293.0 1941.4 L1294.0 1938.5 L1295.0 1935.4 L1295.9 1932.3 L1296.9 1929.2 L1297.9 1926.0 L1298.9 1922.7 L1299.9 1919.4 L1300.8 1916.0 L1301.8 1912.6 L1302.8 1909.1 L1303.8 1905.5 L1304.7 1901.9 L1305.7 1898.2 L1306.7 1894.3 L1307.7 1890.4 L1308.7 1886.4 L1309.6 1882.4 L1310.6 1878.4 L1311.6 1874.4 L1312.6 1870.4 L1313.6 1866.3 L1314.5 1862.3 L1315.5 1858.2 L1316.4 1854.1 L1317.4 1850.0 L1318.3 1845.9 L1319.3 1841.9 L1320.2 1837.9 L1321.2 1833.9 L1322.1 1830.0 L1323.1 1826.1 L1324.1 1822.1 L1325.0 1818.2 L1326.0 1814.2 L1326.9 1810.2 L1327.9 1806.1 L1328.8 1802.1 L1329.8 1798.2 L1330.7 1794.2 L1331.7 1790.3 L1332.6 1786.4 L1333.6 1782.7 L1334.5 1779.3 L1335.5 1776.1 L1336.4 1773.1 L1337.4 1770.1 L1338.3 1767.2 L1339.2 1764.2 L1340.1 1761.1 L1341.1 1757.9 L1342.0 1754.7 L1342.9 1751.4 L1343.9 1748.2 L1344.8 1744.9 L1345.7 1741.5 L1346.7 1738.0 L1347.6 1734.5 L1348.5 1731.1 L1349.5 1727.8 L1350.4 1724.8 L1351.4 1721.9 L1352.3 1719.1 L1353.3 1716.4 L1354.2 1713.7 L1355.2 1711.2 L1356.1 1708.7 L1357.0 1706.4 L1358.0 1704.1 L1358.9 1701.8 L1359.9 1699.6 L1360.8 1697.4 L1361.8 1695.2 L1362.7 1693.2 L1363.7 1691.2 L1364.6 1689.2 L1365.6 1687.4 L1366.6 1685.6 L1367.5 1683.9 L1368.5 1682.3 L1369.5 1680.6 L1370.4 1679.1 L1371.4 1677.5 L1372.4 1676.1 L1373.4 1674.6 L1374.4 1673.2 L1375.4 1671.8 L1376.4 1670.5 L1377.5 1669.3 L1378.5 1668.1 L1379.5 1667.0 L1380.6 1666.0 L1381.6 1665.0 L1382.7 1664.1 L1383.8 1663.1 L1384.9 1662.2 L1386.0 1661.3 L1387.1 1660.5 L1388.2 1659.7 L1389.3 1658.9 L1390.4 1658.2 L1391.5 1657.5 L1392.6 1656.9 L1393.7 1656.4 L1394.7 1655.8 L1395.8 1655.2 L1396.9 1654.7 L1397.9 1654.2 L1399.0 1653.7 L1400.0 1653.2 L1401.1 1652.7 L1402.2 1652.2 L1403.2 1651.8 L1404.3 1651.4 L1405.4 1650.9 L1406.4 1650.6 L1407.5 1650.2 L1408.6 1649.9 L1409.7 1649.6 L1410.8 1649.3 L1411.9 1649.1 L1412.9 1648.9 L1414.0 1648.6 L1415.0 1648.4 L1416.1 1648.2 L1417.1 1648.0 L1418.1 1647.9 L1419.2 1647.7 L1420.2 1647.5 L1421.3 1647.3 L1422.3 1647.2 L1423.3 1647.0 L1424.4 1646.9 L1425.4 1646.7 L1426.4 1646.6 L1427.5 1646.5 L1428.5 1646.4 L1429.6 1646.3 L1430.6 1646.2 L1431.6 1646.1 L1432.7 1646.0 L1433.7 1646.0 L1434.7 1645.9 L1435.7 1645.9 L1436.8 1645.9 L1437.8 1645.9 L1438.8 1645.9 L1439.8 1645.8 L1440.8 1645.8 L1441.8 1645.8 L1442.8 1645.8 L1443.9 1645.8 L1444.9 1645.8 L1445.9 1645.8 L1446.9 1645.8 L1447.9 1645.9 L1448.9 1645.9 L1449.9 1645.9 L1450.9 1645.9 L1452.0 1646.0 L1453.0 1646.0 L1454.0 1646.0 L1455.0 1646.0 L1456.0 1646.1 L1457.0 1646.1 L1458.0 1646.1 L1459.0 1646.1 L1460.0 1646.1 L1461.0 1646.1 L1462.0 1646.1 L1463.0 1646.1 L1464.0 1646.1 L1465.0 1646.2 L1466.0 1646.2 L1467.0 1646.2 L1468.0 1646.2 L1469.0 1646.2 L1470.0 1646.3 L1471.0 1646.3 L1472.0 1646.3 L1473.0 1646.3 L1474.0 1646.4 L1475.0 1646.4 L1476.0 1646.4 L1477.0 1646.5 L1478.0 1646.5 L1479.0 1646.6 L1480.0 1646.6" fill="none" stroke="#000000" stroke-opacity="0.5" stroke-width="19.8" stroke-dasharray="76.5 32" stroke-dashoffset="0"/>
<path d="M1183.2 2044.6L1202.2 2025.6L1221.2 2044.6L1202.2 2063.6Z" fill="#000000" fill-opacity="0.5" stroke="#000" stroke-width="2.9" stroke-linejoin="miter"/>
<path d="M1214.6 2034.2L1233.6 2015.2L1252.6 2034.2L1233.6 2053.2Z" fill="#000000" fill-opacity="0.5" stroke="#000" stroke-width="2.9" stroke-linejoin="miter"/>
<path d="M1260.0 1978.7L1279.0 1959.7L1298.0 1978.7L1279.0 1997.7Z" fill="#000000" fill-opacity="0.5" stroke="#000" stroke-width="2.9" stroke-linejoin="miter"/>
<path d="M1273.6 1942.8L1292.6 1923.8L1311.6 1942.8L1292.6 1961.8Z" fill="#000000" fill-opacity="0.5" stroke="#000" stroke-width="2.9" stroke-linejoin="miter"/>
<path d="M1285.0 1905.5L1304.0 1886.5L1323.0 1905.5L1304.0 1924.5Z" fill="#000000" fill-opacity="0.5" stroke="#000" stroke-width="2.9" stroke-linejoin="miter"/>
<path d="M1294.0 1870.6L1313.0 1851.6L1332.0 1870.6L1313.0 1889.6Z" fill="#000000" fill-opacity="0.5" stroke="#000" stroke-width="2.9" stroke-linejoin="miter"/>
<path d="M1300.8 1843.0L1319.8 1824.0L1338.8 1843.0L1319.8 1862.0Z" fill="#000000" fill-opacity="0.5" stroke="#000" stroke-width="2.9" stroke-linejoin="miter"/>
<path d="M1307.6 1816.2L1326.6 1797.2L1345.6 1816.2L1326.6 1835.2Z" fill="#000000" fill-opacity="0.5" stroke="#000" stroke-width="2.9" stroke-linejoin="miter"/>
<path d="M1316.7 1780.6L1335.7 1761.6L1354.7 1780.6L1335.7 1799.6Z" fill="#000000" fill-opacity="0.5" stroke="#000" stroke-width="2.9" stroke-linejoin="miter"/>
<path d="M1461.0 1646.6L1480.0 1627.6L1499.0 1646.6L1480.0 1665.6Z" fill="#000000" fill-opacity="0.5" stroke="#000" stroke-width="2.9" stroke-linejoin="miter"/>
</g>
<g stroke="#000" stroke-width="3.3"><line x1="1202" y1="1633.1" x2="1202" y2="2057.75"/><line x1="1200.35" y1="2056.1" x2="1564.3" y2="2056.1"/></g>
<g font-family="'DejaVu Sans', Verdana, sans-serif" font-size="47.6" fill="#000" stroke="#000" stroke-width="0.8"><text x="1202" y="2105.1" text-anchor="middle">0</text><text x="1314.9" y="2105.1" text-anchor="middle">10</text><text x="1427.8" y="2105.1" text-anchor="middle">20</text><text x="1540.7" y="2105.1" text-anchor="middle">30</text><text x="1189.6" y="2063" text-anchor="end">0.00</text><text x="1189.6" y="1963.58" text-anchor="end">0.25</text><text x="1189.6" y="1864.15" text-anchor="end">0.50</text><text x="1189.6" y="1764.72" text-anchor="end">0.75</text><text x="1189.6" y="1665.3" text-anchor="end">1.00</text></g>
<text x="1384" y="1593.8" text-anchor="middle" font-family="'Liberation Sans', Arial, Helvetica, sans-serif" font-size="42.8" fill="#000" stroke="#000" stroke-width="0.7">Participant 6</text>
<text y="2181" font-family="'Liberation Sans', Arial, Helvetica, sans-serif" font-size="64.5" fill="#000" xml:space="preserve"><tspan x="432.57" textLength="56.68" lengthAdjust="spacingAndGlyphs">Δ</tspan><tspan x="490.07" textLength="23.25" lengthAdjust="spacingAndGlyphs">r</tspan> <tspan x="535.56" textLength="54.94" lengthAdjust="spacingAndGlyphs">at</tspan> <tspan x="615.98" textLength="91.23" lengthAdjust="spacingAndGlyphs">the</tspan> <tspan x="728.85" textLength="127.44" lengthAdjust="spacingAndGlyphs">time</tspan> <tspan x="877.52" textLength="58.77" lengthAdjust="spacingAndGlyphs">of</tspan> <tspan x="955.92" textLength="222.73" lengthAdjust="spacingAndGlyphs">decision</tspan> <tspan x="1202.98" textLength="131.52" lengthAdjust="spacingAndGlyphs">(Hz)</tspan></text>
</svg></body></html>
